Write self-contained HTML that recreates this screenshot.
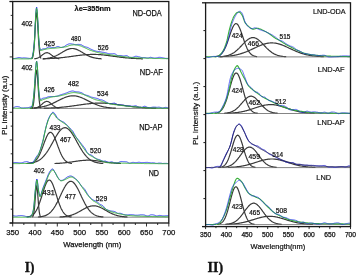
<!DOCTYPE html>
<html><head><meta charset="utf-8"><style>
html,body{margin:0;padding:0;background:#fff;width:357px;height:275px;overflow:hidden}
svg{display:block;will-change:transform;font-family:"Liberation Sans",sans-serif}
</style></head><body>
<svg width="357" height="275" viewBox="0 0 357 275">
<defs><clipPath id="cl"><rect x="12.7" y="1.5" width="156.1" height="221.5"/></clipPath>
<clipPath id="cr"><rect x="205.6" y="3" width="144.9" height="223.6"/></clipPath></defs>
<g clip-path="url(#cl)">
<path d="M31.6,58.8 L32.1,58.4 L32.6,57.6 L33.1,55.7 L33.6,52.3 L34.1,46.8 L34.6,39.1 L35.1,29.9 L35.6,21.0 L36.1,14.6 L36.6,12.5 L37.1,15.5 L37.6,22.6 L38.1,31.7 L38.6,40.7 L39.1,48.0 L39.6,53.1 L40.1,56.2 L40.6,57.8 L41.1,58.5" fill="none" stroke="#3a3a3a" stroke-width="1.2"/>
<path d="M34.3,58.8 L34.8,58.7 L35.3,58.7 L35.8,58.6 L36.3,58.5 L36.8,58.3 L37.3,58.2 L37.8,58.0 L38.3,57.7 L38.8,57.5 L39.3,57.2 L39.8,56.9 L40.3,56.6 L40.8,56.2 L41.3,55.8 L41.8,55.4 L42.3,55.0 L42.8,54.6 L43.3,54.3 L43.8,53.9 L44.3,53.6 L44.8,53.3 L45.3,53.0 L45.8,52.9 L46.3,52.8 L46.8,52.7 L47.3,52.7 L47.8,52.8 L48.3,53.0 L48.8,53.2 L49.3,53.4 L49.8,53.7 L50.3,54.1 L50.8,54.5 L51.3,54.9 L51.8,55.3 L52.3,55.6 L52.8,56.0 L53.3,56.4 L53.8,56.8 L54.3,57.1 L54.8,57.4 L55.3,57.6 L55.8,57.9 L56.3,58.1 L56.8,58.2 L57.3,58.4 L57.8,58.5 L58.3,58.6 L58.8,58.7 L59.3,58.8" fill="none" stroke="#3a3a3a" stroke-width="1.2"/>
<path d="M42.6,58.8 L43.1,58.8 L43.6,58.7 L44.1,58.7 L44.6,58.7 L45.1,58.6 L45.6,58.6 L46.1,58.5 L46.6,58.5 L47.1,58.4 L47.6,58.3 L48.1,58.2 L48.6,58.2 L49.1,58.1 L49.6,58.0 L50.1,57.8 L50.6,57.7 L51.1,57.6 L51.6,57.5 L52.1,57.3 L52.6,57.1 L53.1,57.0 L53.6,56.8 L54.1,56.6 L54.6,56.4 L55.1,56.2 L55.6,56.0 L56.1,55.7 L56.6,55.5 L57.1,55.2 L57.6,55.0 L58.1,54.7 L58.6,54.4 L59.1,54.2 L59.6,53.9 L60.1,53.6 L60.6,53.3 L61.1,53.0 L61.6,52.7 L62.1,52.4 L62.6,52.1 L63.1,51.8 L63.6,51.5 L64.1,51.2 L64.6,50.9 L65.1,50.6 L65.6,50.4 L66.1,50.1 L66.6,49.9 L67.1,49.6 L67.6,49.4 L68.1,49.3 L68.6,49.1 L69.1,48.9 L69.6,48.8 L70.1,48.7 L70.6,48.6 L71.1,48.6 L71.6,48.5 L72.1,48.5 L72.6,48.5 L73.1,48.5 L73.6,48.6 L74.1,48.7 L74.6,48.8 L75.1,48.9 L75.6,49.1 L76.1,49.2 L76.6,49.4 L77.1,49.6 L77.6,49.8 L78.1,50.1 L78.6,50.3 L79.1,50.6 L79.6,50.8 L80.1,51.1 L80.6,51.4 L81.1,51.7 L81.6,52.0 L82.1,52.3 L82.6,52.6 L83.1,52.9 L83.6,53.2 L84.1,53.5 L84.6,53.8 L85.1,54.1 L85.6,54.4 L86.1,54.7 L86.6,54.9 L87.1,55.2 L87.6,55.4 L88.1,55.7 L88.6,55.9 L89.1,56.1 L89.6,56.4 L90.1,56.6 L90.6,56.8 L91.1,56.9 L91.6,57.1 L92.1,57.3 L92.6,57.4 L93.1,57.6 L93.6,57.7 L94.1,57.8 L94.6,57.9 L95.1,58.0 L95.6,58.1 L96.1,58.2 L96.6,58.3 L97.1,58.4 L97.6,58.4 L98.1,58.5 L98.6,58.6 L99.1,58.6 L99.6,58.7 L100.1,58.7 L100.6,58.7 L101.1,58.8 L101.6,58.8" fill="none" stroke="#3a3a3a" stroke-width="1.2"/>
<path d="M42.9,58.8 L43.4,58.8 L43.9,58.8 L44.4,58.8 L44.9,58.7 L45.4,58.7 L45.9,58.7 L46.4,58.7 L46.9,58.7 L47.4,58.7 L47.9,58.6 L48.4,58.6 L48.9,58.6 L49.4,58.6 L49.9,58.5 L50.4,58.5 L50.9,58.5 L51.4,58.5 L51.9,58.4 L52.4,58.4 L52.9,58.4 L53.4,58.4 L53.9,58.3 L54.4,58.3 L54.9,58.2 L55.4,58.2 L55.9,58.2 L56.4,58.1 L56.9,58.1 L57.4,58.1 L57.9,58.0 L58.4,58.0 L58.9,57.9 L59.4,57.9 L59.9,57.8 L60.4,57.8 L60.9,57.7 L61.4,57.7 L61.9,57.6 L62.4,57.6 L62.9,57.5 L63.4,57.5 L63.9,57.4 L64.4,57.3 L64.9,57.3 L65.4,57.2 L65.9,57.2 L66.4,57.1 L66.9,57.0 L67.4,57.0 L67.9,56.9 L68.4,56.8 L68.9,56.8 L69.4,56.7 L69.9,56.6 L70.4,56.6 L70.9,56.5 L71.4,56.4 L71.9,56.4 L72.4,56.3 L72.9,56.2 L73.4,56.2 L73.9,56.1 L74.4,56.0 L74.9,55.9 L75.4,55.9 L75.9,55.8 L76.4,55.7 L76.9,55.7 L77.4,55.6 L77.9,55.5 L78.4,55.5 L78.9,55.4 L79.4,55.3 L79.9,55.3 L80.4,55.2 L80.9,55.2 L81.4,55.1 L81.9,55.1 L82.4,55.0 L82.9,54.9 L83.4,54.9 L83.9,54.9 L84.4,54.8 L84.9,54.8 L85.4,54.7 L85.9,54.7 L86.4,54.6 L86.9,54.6 L87.4,54.6 L87.9,54.5 L88.4,54.5 L88.9,54.5 L89.4,54.5 L89.9,54.5 L90.4,54.4 L90.9,54.4 L91.4,54.4 L91.9,54.4 L92.4,54.4 L92.9,54.4 L93.4,54.4 L93.9,54.4 L94.4,54.4 L94.9,54.4 L95.4,54.4 L95.9,54.4 L96.4,54.5 L96.9,54.5 L97.4,54.5 L97.9,54.5 L98.4,54.6 L98.9,54.6 L99.4,54.6 L99.9,54.7 L100.4,54.7 L100.9,54.7 L101.4,54.8 L101.9,54.8 L102.4,54.9 L102.9,54.9 L103.4,55.0 L103.9,55.0 L104.4,55.1 L104.9,55.1 L105.4,55.2 L105.9,55.3 L106.4,55.3 L106.9,55.4 L107.4,55.5 L107.9,55.5 L108.4,55.6 L108.9,55.6 L109.4,55.7 L109.9,55.8 L110.4,55.9 L110.9,55.9 L111.4,56.0 L111.9,56.1 L112.4,56.1 L112.9,56.2 L113.4,56.3 L113.9,56.3 L114.4,56.4 L114.9,56.5 L115.4,56.5 L115.9,56.6 L116.4,56.7 L116.9,56.7 L117.4,56.8 L117.9,56.9 L118.4,56.9 L118.9,57.0 L119.4,57.1 L119.9,57.1 L120.4,57.2 L120.9,57.3 L121.4,57.3 L121.9,57.4 L122.4,57.4 L122.9,57.5 L123.4,57.6 L123.9,57.6 L124.4,57.7 L124.9,57.7 L125.4,57.8 L125.9,57.8 L126.4,57.9 L126.9,57.9 L127.4,58.0 L127.9,58.0 L128.4,58.0 L128.9,58.1 L129.4,58.1 L129.9,58.2 L130.4,58.2 L130.9,58.2 L131.4,58.3 L131.9,58.3 L132.4,58.3 L132.9,58.4 L133.4,58.4 L133.9,58.4 L134.4,58.5 L134.9,58.5 L135.4,58.5 L135.9,58.5 L136.4,58.6 L136.9,58.6 L137.4,58.6 L137.9,58.6 L138.4,58.7 L138.9,58.7 L139.4,58.7 L139.9,58.7 L140.4,58.7 L140.9,58.7 L141.4,58.8 L141.9,58.8 L142.4,58.8 L142.9,58.8" fill="none" stroke="#3a3a3a" stroke-width="1.2"/>
<path d="M12.7,58.5 L13.2,58.5 L13.7,58.5 L14.2,58.5 L14.7,58.5 L15.2,58.4 L15.7,58.3 L16.2,58.2 L16.7,58.1 L17.2,57.9 L17.7,57.8 L18.2,57.6 L18.7,57.6 L19.2,57.6 L19.7,57.6 L20.2,57.7 L20.7,57.8 L21.2,57.9 L21.7,58.0 L22.2,58.0 L22.7,58.0 L23.2,57.9 L23.7,57.9 L24.2,57.9 L24.7,57.9 L25.2,57.9 L25.7,58.0 L26.2,58.0 L26.7,58.1 L27.2,58.2 L27.7,58.2 L28.2,58.3 L28.7,58.3 L29.2,58.4 L29.7,58.4 L30.2,58.4 L30.7,58.4 L31.2,58.2 L31.7,58.0 L32.2,57.7 L32.7,54.6 L33.2,52.1 L33.7,48.8 L34.2,44.1 L34.7,36.3 L35.2,24.8 L35.7,14.8 L36.2,8.6 L36.7,7.1 L37.2,11.1 L37.7,18.5 L38.2,28.3 L38.7,37.6 L39.2,44.0 L39.7,47.7 L40.2,49.8 L40.7,50.0 L41.2,49.7 L41.7,49.5 L42.2,49.2 L42.7,49.0 L43.2,48.9 L43.7,48.8 L44.2,48.8 L44.7,48.8 L45.2,48.8 L45.7,48.7 L46.2,48.4 L46.7,48.1 L47.2,47.8 L47.7,47.4 L48.2,47.2 L48.7,47.0 L49.2,47.0 L49.7,47.0 L50.2,47.1 L50.7,47.2 L51.2,47.3 L51.7,47.4 L52.2,47.5 L52.7,47.5 L53.2,47.6 L53.7,47.6 L54.2,47.6 L54.7,47.6 L55.2,47.5 L55.7,47.3 L56.2,47.0 L56.7,46.8 L57.2,46.6 L57.7,46.6 L58.2,46.6 L58.7,46.7 L59.2,46.9 L59.7,47.1 L60.2,47.3 L60.7,47.4 L61.2,47.4 L61.7,47.4 L62.2,47.3 L62.7,47.2 L63.2,47.1 L63.7,46.9 L64.2,46.6 L64.7,46.3 L65.2,45.9 L65.7,45.5 L66.2,45.2 L66.7,44.9 L67.2,44.6 L67.7,44.4 L68.2,44.2 L68.7,44.0 L69.2,43.9 L69.7,43.8 L70.2,43.8 L70.7,43.8 L71.2,43.9 L71.7,43.9 L72.2,44.0 L72.7,44.1 L73.2,44.1 L73.7,44.3 L74.2,44.4 L74.7,44.5 L75.2,44.6 L75.7,44.7 L76.2,44.7 L76.7,44.6 L77.2,44.5 L77.7,44.4 L78.2,44.4 L78.7,44.4 L79.2,44.4 L79.7,44.5 L80.2,44.6 L80.7,44.7 L81.2,44.8 L81.7,45.0 L82.2,45.3 L82.7,45.6 L83.2,45.9 L83.7,46.2 L84.2,46.4 L84.7,46.7 L85.2,46.8 L85.7,47.0 L86.2,47.1 L86.7,47.2 L87.2,47.3 L87.7,47.5 L88.2,47.7 L88.7,48.0 L89.2,48.3 L89.7,48.5 L90.2,48.8 L90.7,49.1 L91.2,49.3 L91.7,49.5 L92.2,49.7 L92.7,50.0 L93.2,50.2 L93.7,50.4 L94.2,50.5 L94.7,50.7 L95.2,50.9 L95.7,51.0 L96.2,51.2 L96.7,51.3 L97.2,51.4 L97.7,51.4 L98.2,51.5 L98.7,51.5 L99.2,51.6 L99.7,51.6 L100.2,51.7 L100.7,51.9 L101.2,52.0 L101.7,52.1 L102.2,52.2 L102.7,52.3 L103.2,52.3 L103.7,52.4 L104.2,52.5 L104.7,52.6 L105.2,52.7 L105.7,52.8 L106.2,52.9 L106.7,53.1 L107.2,53.3 L107.7,53.4 L108.2,53.5 L108.7,53.7 L109.2,53.7 L109.7,53.8 L110.2,53.8 L110.7,53.8 L111.2,53.8 L111.7,53.8 L112.2,53.8 L112.7,53.8 L113.2,53.7 L113.7,53.7 L114.2,53.7 L114.7,53.8 L115.2,54.0 L115.7,54.3 L116.2,54.7 L116.7,55.0 L117.2,55.3 L117.7,55.5 L118.2,55.6 L118.7,55.6 L119.2,55.6 L119.7,55.5 L120.2,55.5 L120.7,55.5 L121.2,55.6 L121.7,55.7 L122.2,55.8 L122.7,55.9 L123.2,56.0 L123.7,56.0 L124.2,56.0 L124.7,55.9 L125.2,55.8 L125.7,55.7 L126.2,55.6 L126.7,55.7 L127.2,55.8 L127.7,56.1 L128.2,56.4 L128.7,56.8 L129.2,57.1 L129.7,57.3 L130.2,57.4 L130.7,57.4 L131.2,57.4 L131.7,57.4 L132.2,57.4 L132.7,57.3 L133.2,57.2 L133.7,57.0 L134.2,56.8 L134.7,56.6 L135.2,56.4 L135.7,56.3 L136.2,56.3 L136.7,56.3 L137.2,56.4 L137.7,56.5 L138.2,56.7 L138.7,56.8 L139.2,56.9 L139.7,57.0 L140.2,57.2 L140.7,57.3 L141.2,57.4 L141.7,57.5 L142.2,57.5 L142.7,57.6 L143.2,57.6 L143.7,57.5 L144.2,57.6 L144.7,57.6 L145.2,57.6 L145.7,57.7 L146.2,57.9 L146.7,57.9 L147.2,58.0 L147.7,58.0 L148.2,58.0 L148.7,57.8 L149.2,57.6 L149.7,57.5 L150.2,57.4 L150.7,57.3 L151.2,57.4 L151.7,57.5 L152.2,57.6 L152.7,57.8 L153.2,57.9 L153.7,58.0 L154.2,58.1 L154.7,58.1 L155.2,58.0 L155.7,58.0 L156.2,57.9 L156.7,57.9 L157.2,57.8 L157.7,57.7 L158.2,57.5 L158.7,57.4 L159.2,57.4 L159.7,57.3 L160.2,57.4 L160.7,57.4 L161.2,57.5 L161.7,57.6 L162.2,57.7 L162.7,57.8 L163.2,57.9 L163.7,58.0 L164.2,58.1 L164.7,58.2 L165.2,58.3 L165.7,58.4 L166.2,58.4 L166.7,58.4 L167.2,58.4 L167.7,58.4 L168.2,58.4 L168.7,58.4" fill="none" stroke="#2233ee" stroke-width="0.9"/>
<path d="M12.7,58.8 L13.0,58.8 L13.3,58.8 L13.6,58.8 L14.0,58.8 L14.4,58.8 L14.8,58.8 L15.3,58.8 L15.8,58.8 L16.3,58.8 L16.8,58.8 L17.4,58.8 L17.9,58.8 L18.5,58.8 L19.1,58.8 L19.7,58.9 L20.3,58.9 L20.9,58.9 L21.5,58.9 L22.1,58.9 L22.7,58.9 L23.3,58.9 L23.9,58.9 L24.5,58.9 L25.1,58.9 L25.7,58.9 L26.2,58.9 L26.8,58.9 L27.3,58.9 L27.8,58.9 L28.3,58.9 L28.7,58.9 L29.1,58.8 L29.5,58.8 L29.9,58.8 L30.2,58.8 L30.5,58.8 L32.0,58.7 L32.3,58.6 L32.0,58.3 L32.0,57.8 L32.5,56.7 L32.9,55.2 L33.3,53.0 L33.7,50.3 L34.1,46.9 L34.5,42.0 L34.9,34.4 L35.2,25.4 L35.6,18.0 L35.9,13.0 L36.3,9.6 L36.6,8.3 L36.9,9.6 L37.3,13.1 L37.6,18.0 L38.0,24.9 L38.4,33.1 L38.8,40.0 L39.2,44.4 L39.6,47.4 L40.0,49.5 L40.3,50.4 L40.5,50.6 L40.8,50.5 L41.5,50.3 L41.8,50.3 L42.1,50.2 L42.4,50.1 L42.8,50.0 L43.2,49.9 L43.6,49.7 L44.0,49.6 L44.5,49.4 L45.0,49.3 L45.6,49.1 L46.3,49.0 L47.0,48.9 L47.4,48.9 L47.7,48.8 L48.2,48.8 L48.6,48.7 L49.1,48.7 L49.5,48.6 L50.0,48.6 L50.5,48.5 L51.0,48.5 L51.6,48.4 L52.1,48.4 L52.6,48.3 L53.2,48.3 L53.7,48.2 L54.3,48.2 L54.8,48.1 L55.3,48.1 L55.9,48.0 L56.4,48.0 L56.9,48.0 L57.4,47.9 L57.8,47.9 L58.3,47.8 L58.7,47.8 L59.1,47.7 L59.5,47.7 L60.2,47.6 L60.8,47.5 L61.3,47.5 L61.9,47.4 L62.4,47.3 L62.8,47.3 L63.3,47.2 L63.7,47.1 L64.1,47.1 L64.5,47.0 L64.9,46.9 L65.3,46.9 L65.6,46.8 L66.0,46.7 L66.6,46.6 L67.0,46.4 L67.5,46.3 L67.9,46.1 L68.3,45.9 L68.7,45.8 L69.1,45.6 L69.5,45.5 L70.0,45.4 L70.4,45.3 L70.9,45.2 L71.3,45.1 L71.8,45.0 L72.3,45.0 L72.7,44.9 L73.2,44.8 L73.7,44.8 L74.2,44.8 L74.7,44.8 L75.2,44.8 L75.6,44.9 L76.1,44.9 L76.6,45.0 L77.1,45.1 L77.6,45.2 L78.1,45.3 L78.6,45.4 L79.1,45.5 L79.5,45.7 L80.0,45.8 L80.5,45.9 L80.9,46.1 L81.4,46.2 L81.8,46.4 L82.2,46.6 L82.6,46.8 L83.1,47.0 L83.5,47.2 L84.0,47.4 L84.5,47.6 L84.9,47.8 L85.3,48.0 L85.8,48.2 L86.2,48.4 L86.6,48.6 L87.1,48.8 L87.6,49.1 L88.1,49.3 L88.6,49.5 L89.1,49.8 L89.6,50.0 L90.1,50.2 L90.7,50.4 L91.1,50.5 L91.6,50.7 L92.0,50.9 L92.5,51.0 L93.0,51.2 L93.5,51.3 L94.1,51.5 L94.6,51.6 L95.1,51.8 L95.6,51.9 L96.2,52.1 L96.7,52.2 L97.2,52.3 L97.7,52.5 L98.1,52.6 L98.6,52.7 L99.0,52.8 L99.4,52.9 L100.0,53.0 L100.5,53.2 L101.0,53.3 L101.5,53.4 L101.9,53.5 L102.4,53.5 L102.8,53.6 L103.2,53.7 L103.6,53.7 L104.0,53.8 L104.5,53.9 L104.9,54.0 L105.2,54.0 L105.5,54.1 L105.8,54.1 L106.0,54.2 L106.3,54.2 L106.7,54.3 L107.1,54.4 L107.6,54.5 L108.2,54.6 L109.0,54.7 L110.0,54.8 L110.3,54.8 L110.7,54.9 L111.0,54.9 L111.4,55.0 L111.8,55.0 L112.2,55.1 L112.6,55.2 L113.0,55.2 L113.4,55.3 L113.9,55.4 L114.3,55.4 L114.8,55.5 L115.3,55.6 L115.8,55.6 L116.3,55.7 L116.8,55.8 L117.3,55.8 L117.8,55.9 L118.3,56.0 L118.8,56.1 L119.4,56.1 L119.9,56.2 L120.4,56.3 L121.0,56.4 L121.5,56.4 L122.1,56.5 L122.6,56.6 L123.2,56.6 L123.7,56.7 L124.3,56.8 L124.8,56.8 L125.3,56.9 L125.9,57.0 L126.4,57.0 L126.9,57.1 L127.5,57.2 L128.0,57.2 L128.5,57.3 L129.0,57.3 L129.5,57.4 L130.0,57.4 L130.5,57.4 L131.0,57.5 L131.5,57.5 L132.0,57.6 L132.4,57.6 L132.9,57.6 L133.4,57.7 L133.9,57.7 L134.4,57.7 L134.9,57.7 L135.4,57.8 L135.9,57.8 L136.4,57.8 L136.9,57.9 L137.4,57.9 L137.9,57.9 L138.4,57.9 L138.8,57.9 L139.3,58.0 L139.8,58.0 L140.3,58.0 L140.8,58.0 L141.3,58.0 L141.8,58.0 L142.3,58.1 L142.8,58.1 L143.3,58.1 L143.7,58.1 L144.2,58.1 L144.7,58.1 L145.2,58.2 L145.7,58.2 L146.2,58.2 L146.7,58.2 L147.1,58.2 L147.6,58.2 L148.1,58.2 L148.6,58.3 L149.1,58.3 L149.5,58.3 L150.0,58.3 L150.5,58.3 L151.0,58.3 L151.6,58.3 L152.1,58.4 L152.7,58.4 L153.2,58.4 L153.8,58.4 L154.4,58.4 L154.9,58.4 L155.5,58.5 L156.1,58.5 L156.7,58.5 L157.2,58.5 L157.8,58.5 L158.4,58.5 L159.0,58.5 L159.5,58.5 L160.1,58.5 L160.7,58.6 L161.2,58.6 L161.7,58.6 L162.3,58.6 L162.8,58.6 L163.3,58.6 L163.8,58.6 L164.3,58.6 L164.8,58.6 L165.2,58.6 L165.7,58.6 L166.1,58.7 L166.5,58.7 L166.9,58.7 L167.3,58.7 L167.6,58.7 L167.9,58.7 L168.3,58.7 L168.5,58.7 L168.8,58.7" fill="none" stroke="#38b038" stroke-width="1.0"/>
<line x1="30" y1="108.4" x2="168.8" y2="108.4" stroke="#666" stroke-width="0.8"/>
<path d="M31.7,108.2 L32.2,107.8 L32.7,107.0 L33.2,105.3 L33.7,102.2 L34.2,97.4 L34.7,90.8 L35.2,83.2 L35.7,76.1 L36.2,71.5 L36.7,70.6 L37.2,73.7 L37.7,79.9 L38.2,87.5 L38.7,94.7 L39.2,100.3 L39.7,104.2 L40.2,106.4 L40.7,107.6 L41.2,108.1" fill="none" stroke="#3a3a3a" stroke-width="1.2"/>
<path d="M34.0,108.2 L34.5,108.1 L35.0,108.1 L35.5,108.0 L36.0,107.8 L36.5,107.7 L37.0,107.5 L37.5,107.3 L38.0,107.1 L38.5,106.8 L39.0,106.5 L39.5,106.2 L40.0,105.8 L40.5,105.4 L41.0,105.0 L41.5,104.6 L42.0,104.2 L42.5,103.7 L43.0,103.3 L43.5,102.9 L44.0,102.5 L44.5,102.2 L45.0,101.9 L45.5,101.7 L46.0,101.5 L46.5,101.4 L47.0,101.4 L47.5,101.5 L48.0,101.6 L48.5,101.8 L49.0,102.1 L49.5,102.4 L50.0,102.8 L50.5,103.2 L51.0,103.6 L51.5,104.1 L52.0,104.5 L52.5,104.9 L53.0,105.4 L53.5,105.8 L54.0,106.1 L54.5,106.5 L55.0,106.8 L55.5,107.0 L56.0,107.3 L56.5,107.5 L57.0,107.7 L57.5,107.8 L58.0,107.9 L58.5,108.0 L59.0,108.1 L59.5,108.2" fill="none" stroke="#3a3a3a" stroke-width="1.2"/>
<path d="M29.8,108.2 L30.3,108.2 L30.8,108.2 L31.3,108.1 L31.8,108.1 L32.3,108.1 L32.8,108.1 L33.3,108.0 L33.8,108.0 L34.3,107.9 L34.8,107.9 L35.3,107.9 L35.8,107.8 L36.3,107.8 L36.8,107.7 L37.3,107.7 L37.8,107.6 L38.3,107.5 L38.8,107.5 L39.3,107.4 L39.8,107.3 L40.3,107.2 L40.8,107.1 L41.3,107.0 L41.8,106.9 L42.3,106.8 L42.8,106.7 L43.3,106.6 L43.8,106.5 L44.3,106.4 L44.8,106.2 L45.3,106.1 L45.8,106.0 L46.3,105.8 L46.8,105.7 L47.3,105.5 L47.8,105.3 L48.3,105.1 L48.8,105.0 L49.3,104.8 L49.8,104.6 L50.3,104.4 L50.8,104.2 L51.3,104.0 L51.8,103.7 L52.3,103.5 L52.8,103.3 L53.3,103.1 L53.8,102.8 L54.3,102.6 L54.8,102.4 L55.3,102.1 L55.8,101.9 L56.3,101.6 L56.8,101.4 L57.3,101.1 L57.8,100.8 L58.3,100.6 L58.8,100.3 L59.3,100.1 L59.8,99.8 L60.3,99.6 L60.8,99.3 L61.3,99.1 L61.8,98.9 L62.3,98.6 L62.8,98.4 L63.3,98.2 L63.8,98.0 L64.3,97.7 L64.8,97.5 L65.3,97.3 L65.8,97.2 L66.3,97.0 L66.8,96.8 L67.3,96.7 L67.8,96.5 L68.3,96.4 L68.8,96.3 L69.3,96.2 L69.8,96.1 L70.3,96.0 L70.8,95.9 L71.3,95.9 L71.8,95.8 L72.3,95.8 L72.8,95.8 L73.3,95.8 L73.8,95.8 L74.3,95.8 L74.8,95.9 L75.3,95.9 L75.8,96.0 L76.3,96.1 L76.8,96.2 L77.3,96.3 L77.8,96.4 L78.3,96.6 L78.8,96.7 L79.3,96.9 L79.8,97.0 L80.3,97.2 L80.8,97.4 L81.3,97.6 L81.8,97.8 L82.3,98.0 L82.8,98.2 L83.3,98.5 L83.8,98.7 L84.3,98.9 L84.8,99.2 L85.3,99.4 L85.8,99.7 L86.3,99.9 L86.8,100.2 L87.3,100.4 L87.8,100.7 L88.3,100.9 L88.8,101.2 L89.3,101.4 L89.8,101.7 L90.3,101.9 L90.8,102.2 L91.3,102.4 L91.8,102.7 L92.3,102.9 L92.8,103.1 L93.3,103.4 L93.8,103.6 L94.3,103.8 L94.8,104.0 L95.3,104.2 L95.8,104.4 L96.3,104.6 L96.8,104.8 L97.3,105.0 L97.8,105.2 L98.3,105.4 L98.8,105.5 L99.3,105.7 L99.8,105.9 L100.3,106.0 L100.8,106.1 L101.3,106.3 L101.8,106.4 L102.3,106.5 L102.8,106.7 L103.3,106.8 L103.8,106.9 L104.3,107.0 L104.8,107.1 L105.3,107.2 L105.8,107.2 L106.3,107.3 L106.8,107.4 L107.3,107.5 L107.8,107.5 L108.3,107.6 L108.8,107.7 L109.3,107.7 L109.8,107.8 L110.3,107.8 L110.8,107.9 L111.3,107.9 L111.8,108.0 L112.3,108.0 L112.8,108.0 L113.3,108.1 L113.8,108.1 L114.3,108.1 L114.8,108.1 L115.3,108.2 L115.8,108.2" fill="none" stroke="#3a3a3a" stroke-width="1.2"/>
<path d="M43.7,108.2 L44.2,108.2 L44.7,108.2 L45.2,108.2 L45.7,108.1 L46.2,108.1 L46.7,108.1 L47.2,108.1 L47.7,108.1 L48.2,108.1 L48.7,108.1 L49.2,108.0 L49.7,108.0 L50.2,108.0 L50.7,108.0 L51.2,107.9 L51.7,107.9 L52.2,107.9 L52.7,107.9 L53.2,107.8 L53.7,107.8 L54.2,107.8 L54.7,107.8 L55.2,107.7 L55.7,107.7 L56.2,107.7 L56.7,107.6 L57.2,107.6 L57.7,107.6 L58.2,107.5 L58.7,107.5 L59.2,107.5 L59.7,107.4 L60.2,107.4 L60.7,107.3 L61.2,107.3 L61.7,107.2 L62.2,107.2 L62.7,107.1 L63.2,107.1 L63.7,107.0 L64.2,107.0 L64.7,106.9 L65.2,106.9 L65.7,106.8 L66.2,106.8 L66.7,106.7 L67.2,106.7 L67.7,106.6 L68.2,106.5 L68.7,106.5 L69.2,106.4 L69.7,106.4 L70.2,106.3 L70.7,106.2 L71.2,106.2 L71.7,106.1 L72.2,106.0 L72.7,105.9 L73.2,105.9 L73.7,105.8 L74.2,105.7 L74.7,105.7 L75.2,105.6 L75.7,105.5 L76.2,105.5 L76.7,105.4 L77.2,105.3 L77.7,105.2 L78.2,105.2 L78.7,105.1 L79.2,105.0 L79.7,104.9 L80.2,104.9 L80.7,104.8 L81.2,104.7 L81.7,104.7 L82.2,104.6 L82.7,104.5 L83.2,104.4 L83.7,104.4 L84.2,104.3 L84.7,104.2 L85.2,104.2 L85.7,104.1 L86.2,104.0 L86.7,104.0 L87.2,103.9 L87.7,103.9 L88.2,103.8 L88.7,103.8 L89.2,103.7 L89.7,103.7 L90.2,103.6 L90.7,103.6 L91.2,103.5 L91.7,103.5 L92.2,103.4 L92.7,103.4 L93.2,103.3 L93.7,103.3 L94.2,103.3 L94.7,103.3 L95.2,103.2 L95.7,103.2 L96.2,103.2 L96.7,103.2 L97.2,103.1 L97.7,103.1 L98.2,103.1 L98.7,103.1 L99.2,103.1 L99.7,103.1 L100.2,103.1 L100.7,103.1 L101.2,103.1 L101.7,103.1 L102.2,103.1 L102.7,103.1 L103.2,103.2 L103.7,103.2 L104.2,103.2 L104.7,103.2 L105.2,103.2 L105.7,103.3 L106.2,103.3 L106.7,103.3 L107.2,103.4 L107.7,103.4 L108.2,103.5 L108.7,103.5 L109.2,103.5 L109.7,103.6 L110.2,103.6 L110.7,103.7 L111.2,103.7 L111.7,103.8 L112.2,103.9 L112.7,103.9 L113.2,104.0 L113.7,104.0 L114.2,104.1 L114.7,104.2 L115.2,104.2 L115.7,104.3 L116.2,104.4 L116.7,104.4 L117.2,104.5 L117.7,104.6 L118.2,104.6 L118.7,104.7 L119.2,104.8 L119.7,104.8 L120.2,104.9 L120.7,105.0 L121.2,105.1 L121.7,105.1 L122.2,105.2 L122.7,105.3 L123.2,105.4 L123.7,105.4 L124.2,105.5 L124.7,105.6 L125.2,105.6 L125.7,105.7 L126.2,105.8 L126.7,105.9 L127.2,105.9 L127.7,106.0 L128.2,106.1 L128.7,106.1 L129.2,106.2 L129.7,106.3 L130.2,106.3 L130.7,106.4 L131.2,106.5 L131.7,106.5 L132.2,106.6 L132.7,106.6 L133.2,106.7 L133.7,106.8 L134.2,106.8 L134.7,106.9 L135.2,106.9 L135.7,107.0 L136.2,107.0 L136.7,107.1 L137.2,107.1 L137.7,107.2 L138.2,107.2 L138.7,107.3 L139.2,107.3 L139.7,107.4 L140.2,107.4 L140.7,107.4 L141.2,107.5 L141.7,107.5 L142.2,107.6 L142.7,107.6 L143.2,107.6 L143.7,107.7 L144.2,107.7 L144.7,107.7 L145.2,107.8 L145.7,107.8 L146.2,107.8 L146.7,107.8 L147.2,107.9 L147.7,107.9 L148.2,107.9 L148.7,107.9 L149.2,108.0 L149.7,108.0 L150.2,108.0 L150.7,108.0 L151.2,108.0 L151.7,108.1 L152.2,108.1 L152.7,108.1 L153.2,108.1 L153.7,108.1 L154.2,108.1 L154.7,108.2 L155.2,108.2 L155.7,108.2 L156.2,108.2" fill="none" stroke="#3a3a3a" stroke-width="1.2"/>
<path d="M12.7,108.1 L13.2,107.9 L13.7,107.7 L14.2,107.4 L14.7,107.1 L15.2,106.9 L15.7,106.7 L16.2,106.6 L16.7,106.6 L17.2,106.6 L17.7,106.6 L18.2,106.7 L18.7,106.8 L19.2,106.9 L19.7,107.1 L20.2,107.4 L20.7,107.6 L21.2,107.8 L21.7,108.0 L22.2,108.0 L22.7,108.0 L23.2,108.0 L23.7,107.9 L24.2,107.9 L24.7,107.8 L25.2,107.8 L25.7,107.8 L26.2,107.8 L26.7,107.8 L27.2,107.8 L27.7,107.7 L28.2,107.6 L28.7,107.5 L29.2,107.4 L29.7,107.2 L30.2,107.1 L30.7,107.0 L31.2,107.0 L31.7,106.2 L32.2,105.5 L32.7,103.6 L33.2,100.3 L33.7,95.8 L34.2,90.4 L34.7,83.5 L35.2,75.3 L35.7,68.1 L36.2,62.7 L36.7,61.1 L37.2,64.3 L37.7,71.1 L38.2,80.8 L38.7,89.7 L39.2,95.0 L39.7,97.8 L40.2,99.3 L40.7,99.7 L41.2,99.2 L41.7,98.9 L42.2,98.6 L42.7,98.3 L43.2,98.2 L43.7,98.1 L44.2,98.0 L44.7,98.0 L45.2,97.9 L45.7,97.8 L46.2,97.6 L46.7,97.4 L47.2,97.2 L47.7,97.0 L48.2,96.9 L48.7,96.7 L49.2,96.7 L49.7,96.6 L50.2,96.6 L50.7,96.5 L51.2,96.5 L51.7,96.5 L52.2,96.5 L52.7,96.5 L53.2,96.5 L53.7,96.5 L54.2,96.5 L54.7,96.5 L55.2,96.4 L55.7,96.4 L56.2,96.3 L56.7,96.2 L57.2,96.1 L57.7,96.0 L58.2,95.8 L58.7,95.7 L59.2,95.4 L59.7,95.2 L60.2,95.0 L60.7,94.8 L61.2,94.7 L61.7,94.5 L62.2,94.4 L62.7,94.2 L63.2,94.1 L63.7,93.9 L64.2,93.7 L64.7,93.6 L65.2,93.4 L65.7,93.2 L66.2,93.0 L66.7,92.9 L67.2,92.6 L67.7,92.4 L68.2,92.2 L68.7,92.0 L69.2,91.8 L69.7,91.6 L70.2,91.5 L70.7,91.3 L71.2,91.2 L71.7,91.1 L72.2,91.0 L72.7,91.0 L73.2,91.0 L73.7,91.2 L74.2,91.3 L74.7,91.5 L75.2,91.6 L75.7,91.8 L76.2,91.8 L76.7,91.9 L77.2,91.9 L77.7,91.9 L78.2,91.9 L78.7,92.0 L79.2,92.1 L79.7,92.2 L80.2,92.3 L80.7,92.5 L81.2,92.6 L81.7,92.8 L82.2,93.1 L82.7,93.4 L83.2,93.7 L83.7,94.1 L84.2,94.4 L84.7,94.7 L85.2,94.9 L85.7,95.0 L86.2,95.2 L86.7,95.3 L87.2,95.4 L87.7,95.5 L88.2,95.7 L88.7,95.9 L89.2,96.2 L89.7,96.4 L90.2,96.7 L90.7,96.9 L91.2,97.1 L91.7,97.2 L92.2,97.3 L92.7,97.4 L93.2,97.5 L93.7,97.7 L94.2,97.8 L94.7,97.9 L95.2,98.0 L95.7,98.1 L96.2,98.2 L96.7,98.4 L97.2,98.5 L97.7,98.7 L98.2,98.9 L98.7,99.1 L99.2,99.4 L99.7,99.5 L100.2,99.7 L100.7,99.8 L101.2,99.8 L101.7,99.9 L102.2,100.0 L102.7,100.2 L103.2,100.4 L103.7,100.7 L104.2,100.9 L104.7,101.2 L105.2,101.5 L105.7,101.8 L106.2,102.1 L106.7,102.4 L107.2,102.7 L107.7,103.0 L108.2,103.2 L108.7,103.4 L109.2,103.5 L109.7,103.6 L110.2,103.6 L110.7,103.6 L111.2,103.5 L111.7,103.5 L112.2,103.4 L112.7,103.4 L113.2,103.3 L113.7,103.2 L114.2,103.1 L114.7,103.2 L115.2,103.4 L115.7,103.6 L116.2,103.9 L116.7,104.3 L117.2,104.5 L117.7,104.7 L118.2,104.9 L118.7,104.9 L119.2,104.9 L119.7,104.9 L120.2,104.9 L120.7,105.0 L121.2,105.0 L121.7,105.0 L122.2,105.1 L122.7,105.1 L123.2,105.2 L123.7,105.2 L124.2,105.3 L124.7,105.4 L125.2,105.5 L125.7,105.7 L126.2,105.8 L126.7,105.8 L127.2,105.9 L127.7,105.9 L128.2,105.9 L128.7,105.9 L129.2,105.9 L129.7,105.9 L130.2,106.0 L130.7,106.0 L131.2,106.1 L131.7,106.2 L132.2,106.2 L132.7,106.2 L133.2,106.2 L133.7,106.1 L134.2,106.0 L134.7,105.9 L135.2,105.8 L135.7,105.8 L136.2,105.9 L136.7,106.1 L137.2,106.4 L137.7,106.7 L138.2,106.9 L138.7,107.1 L139.2,107.2 L139.7,107.3 L140.2,107.3 L140.7,107.3 L141.2,107.3 L141.7,107.3 L142.2,107.2 L142.7,107.0 L143.2,106.7 L143.7,106.5 L144.2,106.3 L144.7,106.3 L145.2,106.4 L145.7,106.5 L146.2,106.8 L146.7,107.0 L147.2,107.3 L147.7,107.4 L148.2,107.5 L148.7,107.5 L149.2,107.5 L149.7,107.5 L150.2,107.5 L150.7,107.5 L151.2,107.4 L151.7,107.4 L152.2,107.3 L152.7,107.2 L153.2,107.2 L153.7,107.1 L154.2,107.1 L154.7,107.2 L155.2,107.2 L155.7,107.2 L156.2,107.3 L156.7,107.3 L157.2,107.3 L157.7,107.3 L158.2,107.2 L158.7,107.2 L159.2,107.2 L159.7,107.3 L160.2,107.4 L160.7,107.5 L161.2,107.7 L161.7,107.8 L162.2,108.0 L162.7,108.0 L163.2,108.0 L163.7,107.8 L164.2,107.7 L164.7,107.5 L165.2,107.4 L165.7,107.4 L166.2,107.4 L166.7,107.5 L167.2,107.6 L167.7,107.8 L168.2,107.9 L168.7,107.9" fill="none" stroke="#2233ee" stroke-width="0.9"/>
<path d="M12.7,108.3 L13.0,108.3 L13.3,108.3 L13.6,108.3 L14.0,108.3 L14.4,108.3 L14.8,108.3 L15.3,108.3 L15.8,108.3 L16.3,108.3 L16.9,108.3 L17.4,108.3 L18.0,108.3 L18.6,108.3 L19.2,108.3 L19.8,108.3 L20.4,108.3 L21.0,108.3 L21.6,108.3 L22.2,108.3 L22.8,108.3 L23.4,108.4 L24.0,108.4 L24.6,108.4 L25.1,108.4 L25.7,108.4 L26.2,108.3 L26.7,108.3 L27.2,108.3 L27.7,108.3 L28.1,108.3 L28.5,108.3 L28.9,108.3 L29.2,108.3 L29.5,108.3 L30.9,108.3 L31.4,108.2 L31.5,108.1 L31.4,107.9 L31.5,107.6 L32.0,107.0 L32.4,106.1 L32.8,104.0 L33.2,101.4 L33.5,98.0 L33.9,94.2 L34.3,90.0 L34.8,83.4 L35.2,76.0 L35.6,70.0 L36.0,65.7 L36.3,62.6 L36.6,61.5 L36.9,62.6 L37.3,65.5 L37.6,70.0 L38.0,76.8 L38.4,85.2 L38.8,92.0 L39.2,96.1 L39.7,98.6 L40.2,100.2 L40.5,100.8 L40.6,100.8 L41.1,100.4 L42.0,100.0 L42.3,99.9 L42.7,99.8 L43.0,99.7 L43.4,99.5 L43.9,99.4 L44.3,99.2 L44.8,99.1 L45.3,98.9 L45.8,98.7 L46.3,98.6 L46.9,98.4 L47.4,98.2 L48.0,98.0 L48.5,97.9 L49.0,97.7 L49.6,97.6 L50.1,97.4 L50.6,97.3 L51.1,97.2 L51.6,97.1 L52.1,97.0 L52.6,96.9 L53.1,96.8 L53.6,96.7 L54.2,96.7 L54.7,96.6 L55.2,96.5 L55.7,96.4 L56.2,96.4 L56.8,96.3 L57.3,96.2 L57.7,96.2 L58.2,96.1 L58.7,96.0 L59.1,96.0 L59.6,95.9 L60.0,95.8 L60.6,95.7 L61.1,95.6 L61.6,95.5 L62.0,95.3 L62.5,95.2 L62.9,95.1 L63.3,95.0 L63.7,94.9 L64.1,94.8 L64.6,94.7 L65.0,94.5 L65.5,94.4 L66.0,94.3 L66.4,94.2 L66.9,94.1 L67.3,93.9 L67.8,93.8 L68.2,93.7 L68.7,93.5 L69.2,93.4 L69.7,93.3 L70.1,93.1 L70.6,93.0 L71.1,92.9 L71.6,92.8 L72.1,92.7 L72.6,92.7 L73.1,92.6 L73.6,92.6 L74.1,92.6 L74.6,92.6 L75.1,92.6 L75.6,92.7 L76.1,92.8 L76.6,92.8 L77.1,92.9 L77.6,93.0 L78.2,93.1 L78.7,93.2 L79.2,93.3 L79.7,93.4 L80.2,93.5 L80.7,93.6 L81.1,93.8 L81.6,93.9 L82.0,94.0 L82.5,94.2 L83.0,94.3 L83.5,94.5 L84.0,94.7 L84.4,94.9 L84.9,95.1 L85.3,95.2 L85.7,95.5 L86.2,95.7 L86.6,95.9 L87.0,96.1 L87.5,96.3 L88.0,96.5 L88.4,96.7 L88.9,96.9 L89.4,97.1 L89.8,97.3 L90.3,97.5 L90.8,97.7 L91.3,98.0 L91.8,98.2 L92.3,98.4 L92.8,98.6 L93.3,98.8 L93.7,99.0 L94.2,99.2 L94.6,99.3 L95.0,99.5 L95.5,99.7 L96.0,99.8 L96.4,99.9 L96.8,100.0 L97.1,100.1 L97.5,100.2 L97.9,100.3 L98.3,100.4 L98.8,100.5 L99.4,100.6 L100.0,100.8 L100.4,100.9 L100.7,101.0 L101.1,101.1 L101.5,101.3 L101.9,101.4 L102.3,101.6 L102.8,101.7 L103.2,101.9 L103.7,102.0 L104.1,102.2 L104.6,102.3 L105.1,102.5 L105.6,102.6 L106.1,102.8 L106.6,103.0 L107.2,103.1 L107.7,103.3 L108.3,103.4 L108.8,103.5 L109.4,103.7 L110.0,103.8 L110.4,103.9 L110.8,104.0 L111.3,104.0 L111.7,104.1 L112.1,104.2 L112.6,104.3 L113.0,104.3 L113.5,104.4 L114.0,104.5 L114.5,104.6 L115.0,104.6 L115.4,104.7 L115.9,104.8 L116.4,104.8 L116.9,104.9 L117.4,105.0 L117.9,105.0 L118.5,105.1 L119.0,105.2 L119.5,105.2 L120.0,105.3 L120.5,105.4 L121.0,105.4 L121.5,105.5 L122.0,105.6 L122.5,105.6 L123.0,105.7 L123.5,105.7 L124.0,105.8 L124.5,105.8 L125.0,105.9 L125.5,106.0 L126.0,106.0 L126.5,106.1 L127.0,106.1 L127.5,106.2 L128.0,106.2 L128.5,106.3 L129.0,106.3 L129.5,106.4 L130.0,106.4 L130.5,106.5 L131.0,106.5 L131.5,106.6 L132.1,106.6 L132.6,106.7 L133.1,106.7 L133.6,106.8 L134.1,106.8 L134.6,106.8 L135.0,106.9 L135.5,106.9 L136.0,107.0 L136.5,107.0 L137.0,107.0 L137.4,107.1 L137.9,107.1 L138.3,107.2 L138.7,107.2 L139.2,107.2 L139.6,107.3 L140.0,107.3 L140.6,107.3 L141.1,107.4 L141.6,107.4 L142.1,107.5 L142.5,107.5 L143.0,107.6 L143.4,107.6 L143.8,107.6 L144.2,107.7 L144.6,107.7 L145.0,107.7 L145.4,107.8 L145.8,107.8 L146.2,107.8 L146.6,107.8 L147.1,107.9 L147.6,107.9 L148.2,107.9 L148.7,108.0 L149.3,108.0 L150.0,108.0 L150.4,108.0 L150.8,108.0 L151.2,108.0 L151.7,108.0 L152.2,108.1 L152.7,108.1 L153.2,108.1 L153.7,108.1 L154.2,108.1 L154.8,108.1 L155.4,108.1 L155.9,108.1 L156.5,108.1 L157.1,108.2 L157.7,108.2 L158.3,108.2 L158.8,108.2 L159.4,108.2 L160.0,108.2 L160.6,108.2 L161.2,108.2 L161.8,108.2 L162.3,108.2 L162.9,108.2 L163.4,108.2 L164.0,108.2 L164.5,108.2 L165.0,108.3 L165.5,108.3 L165.9,108.3 L166.4,108.3 L166.8,108.3 L167.2,108.3 L167.6,108.3 L167.9,108.3 L168.2,108.3 L168.5,108.3 L168.8,108.3" fill="none" stroke="#38b038" stroke-width="1.0"/>
<path d="M28.5,163.5 L29.0,163.4 L29.5,163.4 L30.0,163.3 L30.5,163.2 L31.0,163.1 L31.5,163.0 L32.0,162.8 L32.5,162.6 L33.0,162.4 L33.5,162.2 L34.0,161.9 L34.5,161.5 L35.0,161.1 L35.5,160.7 L36.0,160.2 L36.5,159.6 L37.0,159.0 L37.5,158.3 L38.0,157.5 L38.5,156.7 L39.0,155.8 L39.5,154.8 L40.0,153.7 L40.5,152.6 L41.0,151.4 L41.5,150.1 L42.0,148.8 L42.5,147.5 L43.0,146.1 L43.5,144.8 L44.0,143.4 L44.5,142.0 L45.0,140.7 L45.5,139.4 L46.0,138.2 L46.5,137.0 L47.0,136.0 L47.5,135.0 L48.0,134.2 L48.5,133.5 L49.0,133.0 L49.5,132.6 L50.0,132.4 L50.5,132.3 L51.0,132.4 L51.5,132.7 L52.0,133.1 L52.5,133.7 L53.0,134.4 L53.5,135.2 L54.0,136.2 L54.5,137.3 L55.0,138.5 L55.5,139.7 L56.0,141.0 L56.5,142.3 L57.0,143.7 L57.5,145.1 L58.0,146.5 L58.5,147.8 L59.0,149.1 L59.5,150.4 L60.0,151.7 L60.5,152.8 L61.0,154.0 L61.5,155.0 L62.0,156.0 L62.5,156.9 L63.0,157.7 L63.5,158.5 L64.0,159.1 L64.5,159.8 L65.0,160.3 L65.5,160.8 L66.0,161.2 L66.5,161.6 L67.0,161.9 L67.5,162.2 L68.0,162.5 L68.5,162.7 L69.0,162.9 L69.5,163.0 L70.0,163.1 L70.5,163.2 L71.0,163.3 L71.5,163.4 L72.0,163.5" fill="none" stroke="#3a3a3a" stroke-width="1.2"/>
<path d="M26.3,163.5 L26.8,163.5 L27.3,163.4 L27.8,163.4 L28.3,163.4 L28.8,163.3 L29.3,163.3 L29.8,163.2 L30.3,163.1 L30.8,163.1 L31.3,163.0 L31.8,162.9 L32.3,162.8 L32.8,162.7 L33.3,162.6 L33.8,162.5 L34.3,162.3 L34.8,162.2 L35.3,162.0 L35.8,161.8 L36.3,161.6 L36.8,161.4 L37.3,161.2 L37.8,160.9 L38.3,160.7 L38.8,160.4 L39.3,160.0 L39.8,159.7 L40.3,159.4 L40.8,159.0 L41.3,158.6 L41.8,158.1 L42.3,157.7 L42.8,157.2 L43.3,156.7 L43.8,156.1 L44.3,155.5 L44.8,154.9 L45.3,154.3 L45.8,153.7 L46.3,153.0 L46.8,152.3 L47.3,151.5 L47.8,150.8 L48.3,150.0 L48.8,149.2 L49.3,148.4 L49.8,147.5 L50.3,146.7 L50.8,145.8 L51.3,144.9 L51.8,144.0 L52.3,143.1 L52.8,142.2 L53.3,141.3 L53.8,140.4 L54.3,139.5 L54.8,138.6 L55.3,137.7 L55.8,136.8 L56.3,136.0 L56.8,135.2 L57.3,134.4 L57.8,133.6 L58.3,132.9 L58.8,132.2 L59.3,131.5 L59.8,130.9 L60.3,130.3 L60.8,129.8 L61.3,129.3 L61.8,128.9 L62.3,128.6 L62.8,128.3 L63.3,128.0 L63.8,127.9 L64.3,127.8 L64.8,127.7 L65.3,127.7 L65.8,127.8 L66.3,127.9 L66.8,128.1 L67.3,128.4 L67.8,128.7 L68.3,129.1 L68.8,129.5 L69.3,130.0 L69.8,130.5 L70.3,131.1 L70.8,131.7 L71.3,132.4 L71.8,133.1 L72.3,133.8 L72.8,134.6 L73.3,135.4 L73.8,136.2 L74.3,137.1 L74.8,138.0 L75.3,138.8 L75.8,139.7 L76.3,140.6 L76.8,141.6 L77.3,142.5 L77.8,143.4 L78.3,144.3 L78.8,145.2 L79.3,146.0 L79.8,146.9 L80.3,147.8 L80.8,148.6 L81.3,149.4 L81.8,150.2 L82.3,151.0 L82.8,151.8 L83.3,152.5 L83.8,153.2 L84.3,153.9 L84.8,154.5 L85.3,155.1 L85.8,155.7 L86.3,156.3 L86.8,156.8 L87.3,157.3 L87.8,157.8 L88.3,158.3 L88.8,158.7 L89.3,159.1 L89.8,159.5 L90.3,159.8 L90.8,160.1 L91.3,160.5 L91.8,160.7 L92.3,161.0 L92.8,161.3 L93.3,161.5 L93.8,161.7 L94.3,161.9 L94.8,162.1 L95.3,162.2 L95.8,162.4 L96.3,162.5 L96.8,162.6 L97.3,162.7 L97.8,162.8 L98.3,162.9 L98.8,163.0 L99.3,163.1 L99.8,163.2 L100.3,163.2 L100.8,163.3 L101.3,163.3 L101.8,163.4 L102.3,163.4 L102.8,163.4 L103.3,163.5" fill="none" stroke="#3a3a3a" stroke-width="1.2"/>
<path d="M54.5,163.5 L55.0,163.5 L55.5,163.5 L56.0,163.4 L56.5,163.4 L57.0,163.4 L57.5,163.4 L58.0,163.3 L58.5,163.3 L59.0,163.3 L59.5,163.3 L60.0,163.2 L60.5,163.2 L61.0,163.2 L61.5,163.1 L62.0,163.1 L62.5,163.0 L63.0,163.0 L63.5,162.9 L64.0,162.9 L64.5,162.8 L65.0,162.8 L65.5,162.7 L66.0,162.7 L66.5,162.6 L67.0,162.6 L67.5,162.5 L68.0,162.4 L68.5,162.4 L69.0,162.3 L69.5,162.2 L70.0,162.2 L70.5,162.1 L71.0,162.0 L71.5,162.0 L72.0,161.9 L72.5,161.8 L73.0,161.7 L73.5,161.7 L74.0,161.6 L74.5,161.5 L75.0,161.4 L75.5,161.3 L76.0,161.3 L76.5,161.2 L77.0,161.1 L77.5,161.1 L78.0,161.0 L78.5,160.9 L79.0,160.9 L79.5,160.8 L80.0,160.7 L80.5,160.7 L81.0,160.6 L81.5,160.6 L82.0,160.5 L82.5,160.5 L83.0,160.4 L83.5,160.4 L84.0,160.3 L84.5,160.3 L85.0,160.3 L85.5,160.3 L86.0,160.2 L86.5,160.2 L87.0,160.2 L87.5,160.2 L88.0,160.2 L88.5,160.2 L89.0,160.2 L89.5,160.2 L90.0,160.2 L90.5,160.3 L91.0,160.3 L91.5,160.3 L92.0,160.3 L92.5,160.4 L93.0,160.4 L93.5,160.5 L94.0,160.5 L94.5,160.6 L95.0,160.6 L95.5,160.7 L96.0,160.7 L96.5,160.8 L97.0,160.9 L97.5,160.9 L98.0,161.0 L98.5,161.1 L99.0,161.1 L99.5,161.2 L100.0,161.3 L100.5,161.4 L101.0,161.4 L101.5,161.5 L102.0,161.6 L102.5,161.7 L103.0,161.7 L103.5,161.8 L104.0,161.9 L104.5,162.0 L105.0,162.0 L105.5,162.1 L106.0,162.2 L106.5,162.2 L107.0,162.3 L107.5,162.4 L108.0,162.4 L108.5,162.5 L109.0,162.6 L109.5,162.6 L110.0,162.7 L110.5,162.7 L111.0,162.8 L111.5,162.8 L112.0,162.9 L112.5,162.9 L113.0,163.0 L113.5,163.0 L114.0,163.1 L114.5,163.1 L115.0,163.2 L115.5,163.2 L116.0,163.2 L116.5,163.3 L117.0,163.3 L117.5,163.3 L118.0,163.3 L118.5,163.4 L119.0,163.4 L119.5,163.4 L120.0,163.4 L120.5,163.5 L121.0,163.5" fill="none" stroke="#3a3a3a" stroke-width="1.2"/>
<path d="M12.7,162.8 L13.2,162.8 L13.7,162.7 L14.2,162.6 L14.7,162.6 L15.2,162.5 L15.7,162.5 L16.2,162.5 L16.7,162.6 L17.2,162.6 L17.7,162.7 L18.2,162.8 L18.7,162.8 L19.2,162.9 L19.7,162.9 L20.2,162.9 L20.7,162.9 L21.2,162.9 L21.7,162.8 L22.2,162.7 L22.7,162.6 L23.2,162.4 L23.7,162.2 L24.2,162.0 L24.7,161.9 L25.2,161.8 L25.7,161.8 L26.2,161.7 L26.7,161.7 L27.2,161.7 L27.7,161.8 L28.2,162.0 L28.7,162.2 L29.2,162.5 L29.7,162.8 L30.2,163.0 L30.7,163.1 L31.2,163.0 L31.7,162.9 L32.2,162.7 L32.7,162.4 L33.2,162.2 L33.7,162.1 L34.2,160.6 L34.7,159.8 L35.2,158.9 L35.7,158.0 L36.2,157.1 L36.7,156.3 L37.2,155.7 L37.7,155.1 L38.2,154.5 L38.7,153.7 L39.2,152.7 L39.7,151.5 L40.2,150.1 L40.7,148.5 L41.2,146.7 L41.7,145.0 L42.2,143.1 L42.7,141.4 L43.2,139.4 L43.7,137.2 L44.2,134.8 L44.7,132.6 L45.2,130.4 L45.7,128.3 L46.2,126.2 L46.7,124.4 L47.2,122.6 L47.7,121.0 L48.2,119.5 L48.7,118.2 L49.2,117.2 L49.7,116.2 L50.2,115.4 L50.7,114.6 L51.2,113.9 L51.7,113.2 L52.2,112.7 L52.7,112.3 L53.2,112.3 L53.7,112.5 L54.2,113.0 L54.7,113.7 L55.2,114.3 L55.7,115.2 L56.2,116.1 L56.7,117.0 L57.2,117.7 L57.7,118.3 L58.2,118.7 L58.7,119.2 L59.2,119.6 L59.7,120.0 L60.2,120.4 L60.7,120.7 L61.2,121.0 L61.7,121.2 L62.2,121.5 L62.7,121.7 L63.2,121.9 L63.7,122.2 L64.2,122.5 L64.7,122.9 L65.2,123.3 L65.7,123.8 L66.2,124.3 L66.7,124.8 L67.2,125.2 L67.7,125.7 L68.2,126.3 L68.7,126.9 L69.2,127.4 L69.7,128.0 L70.2,128.5 L70.7,129.0 L71.2,129.4 L71.7,129.9 L72.2,130.5 L72.7,131.1 L73.2,131.9 L73.7,132.8 L74.2,133.7 L74.7,134.6 L75.2,135.6 L75.7,136.4 L76.2,137.1 L76.7,137.8 L77.2,138.5 L77.7,139.1 L78.2,139.7 L78.7,140.4 L79.2,141.0 L79.7,141.7 L80.2,142.3 L80.7,143.0 L81.2,143.6 L81.7,144.3 L82.2,144.9 L82.7,145.5 L83.2,146.1 L83.7,146.8 L84.2,147.4 L84.7,148.1 L85.2,148.9 L85.7,149.8 L86.2,150.8 L86.7,151.7 L87.2,152.5 L87.7,153.2 L88.2,153.7 L88.7,154.0 L89.2,154.3 L89.7,154.5 L90.2,154.6 L90.7,154.8 L91.2,155.1 L91.7,155.4 L92.2,155.7 L92.7,156.1 L93.2,156.5 L93.7,156.9 L94.2,157.3 L94.7,157.7 L95.2,158.0 L95.7,158.3 L96.2,158.6 L96.7,158.9 L97.2,159.1 L97.7,159.2 L98.2,159.3 L98.7,159.5 L99.2,159.6 L99.7,159.8 L100.2,160.0 L100.7,160.2 L101.2,160.5 L101.7,160.7 L102.2,160.9 L102.7,161.1 L103.2,161.2 L103.7,161.2 L104.2,161.1 L104.7,161.1 L105.2,161.1 L105.7,161.2 L106.2,161.5 L106.7,161.7 L107.2,161.9 L107.7,162.1 L108.2,162.2 L108.7,162.3 L109.2,162.3 L109.7,162.2 L110.2,162.1 L110.7,162.0 L111.2,161.9 L111.7,161.9 L112.2,162.0 L112.7,162.1 L113.2,162.3 L113.7,162.5 L114.2,162.6 L114.7,162.8 L115.2,162.8 L115.7,162.9 L116.2,162.9 L116.7,162.9 L117.2,162.8 L117.7,162.8 L118.2,162.6 L118.7,162.4 L119.2,162.2 L119.7,161.9 L120.2,161.7 L120.7,161.6 L121.2,161.5 L121.7,161.5 L122.2,161.6 L122.7,161.6 L123.2,161.7 L123.7,161.7 L124.2,161.7 L124.7,161.7 L125.2,161.7 L125.7,161.8 L126.2,161.8 L126.7,161.9 L127.2,162.1 L127.7,162.3 L128.2,162.6 L128.7,162.9 L129.2,163.1 L129.7,163.2 L130.2,163.1 L130.7,163.0 L131.2,162.8 L131.7,162.6 L132.2,162.5 L132.7,162.4 L133.2,162.4 L133.7,162.4 L134.2,162.5 L134.7,162.6 L135.2,162.7 L135.7,162.7 L136.2,162.7 L136.7,162.6 L137.2,162.5 L137.7,162.4 L138.2,162.3 L138.7,162.3 L139.2,162.3 L139.7,162.3 L140.2,162.4 L140.7,162.5 L141.2,162.6 L141.7,162.6 L142.2,162.6 L142.7,162.6 L143.2,162.6 L143.7,162.5 L144.2,162.5 L144.7,162.5 L145.2,162.5 L145.7,162.4 L146.2,162.4 L146.7,162.4 L147.2,162.4 L147.7,162.4 L148.2,162.5 L148.7,162.6 L149.2,162.6 L149.7,162.7 L150.2,162.8 L150.7,162.8 L151.2,162.9 L151.7,162.9 L152.2,162.8 L152.7,162.8 L153.2,162.8 L153.7,162.9 L154.2,162.9 L154.7,163.0 L155.2,163.2 L155.7,163.3 L156.2,163.3 L156.7,163.4 L157.2,163.4 L157.7,163.3 L158.2,163.2 L158.7,163.1 L159.2,163.1 L159.7,163.1 L160.2,163.1 L160.7,163.2 L161.2,163.2 L161.7,163.3 L162.2,163.4 L162.7,163.5 L163.2,163.5 L163.7,163.4 L164.2,163.4 L164.7,163.4 L165.2,163.4 L165.7,163.4 L166.2,163.4 L166.7,163.4 L167.2,163.5 L167.7,163.5 L168.2,163.6 L168.7,163.6" fill="none" stroke="#2233ee" stroke-width="0.9"/>
<path d="M12.7,163.6 L13.0,163.6 L13.3,163.6 L13.6,163.6 L14.0,163.6 L14.3,163.6 L14.8,163.6 L15.2,163.6 L15.7,163.6 L16.2,163.6 L16.7,163.6 L17.2,163.6 L17.7,163.6 L18.3,163.6 L18.9,163.6 L19.4,163.6 L20.0,163.6 L20.6,163.5 L21.2,163.5 L21.8,163.5 L22.4,163.5 L23.0,163.5 L23.7,163.5 L24.3,163.5 L24.8,163.5 L25.4,163.5 L26.0,163.5 L26.6,163.5 L27.1,163.5 L27.7,163.5 L28.2,163.5 L28.7,163.5 L29.2,163.5 L29.6,163.5 L30.1,163.4 L30.5,163.4 L30.8,163.4 L31.2,163.4 L31.5,163.4 L31.8,163.4 L33.4,163.4 L33.7,163.4 L33.5,163.2 L33.6,162.8 L34.0,162.3 L34.4,161.7 L34.8,160.9 L35.3,160.1 L35.7,159.3 L36.2,158.5 L36.7,157.7 L37.1,157.0 L37.6,156.3 L38.1,155.4 L38.6,154.4 L39.1,153.2 L39.5,152.1 L40.0,150.8 L40.5,149.4 L41.0,147.9 L41.5,146.4 L41.9,145.0 L42.3,143.6 L42.7,142.3 L43.3,140.0 L43.7,138.0 L44.1,136.0 L44.5,134.0 L45.0,131.9 L45.4,129.9 L45.9,127.9 L46.4,125.9 L46.8,124.6 L47.2,123.3 L47.6,122.0 L48.0,120.8 L48.5,119.6 L49.0,118.5 L49.5,117.6 L49.9,116.6 L50.4,115.7 L51.0,114.9 L51.5,114.2 L51.9,113.6 L52.4,113.3 L52.9,113.2 L53.3,113.5 L53.8,113.9 L54.2,114.4 L54.6,115.0 L55.0,115.5 L55.4,116.1 L55.8,116.7 L56.2,117.3 L56.7,118.0 L57.3,118.6 L57.7,118.9 L58.1,119.3 L58.5,119.6 L59.0,119.9 L59.5,120.2 L60.0,120.6 L60.5,120.9 L61.0,121.2 L61.5,121.6 L62.0,121.9 L62.5,122.3 L63.0,122.6 L63.5,122.9 L64.0,123.3 L64.5,123.6 L65.0,123.9 L65.5,124.3 L66.0,124.6 L66.4,125.0 L66.9,125.4 L67.3,125.8 L67.7,126.2 L68.1,126.7 L68.5,127.2 L69.0,127.8 L69.6,128.5 L70.0,129.0 L70.4,129.6 L70.9,130.2 L71.4,130.9 L71.9,131.6 L72.5,132.4 L73.0,133.1 L73.5,133.9 L74.1,134.6 L74.6,135.3 L75.0,136.0 L75.5,136.6 L76.0,137.3 L76.5,138.0 L77.0,138.6 L77.4,139.3 L77.8,139.9 L78.3,140.5 L78.7,141.1 L79.1,141.7 L79.6,142.4 L80.0,143.0 L80.5,143.7 L80.9,144.3 L81.4,145.0 L81.8,145.7 L82.3,146.3 L82.7,147.0 L83.2,147.7 L83.6,148.3 L84.1,148.9 L84.5,149.5 L85.0,150.1 L85.4,150.7 L85.9,151.3 L86.3,151.9 L86.7,152.4 L87.2,152.9 L87.6,153.4 L88.0,153.9 L88.5,154.3 L89.0,154.7 L89.4,155.0 L89.9,155.3 L90.3,155.6 L90.8,155.8 L91.3,156.1 L91.8,156.3 L92.2,156.5 L92.7,156.8 L93.2,157.1 L93.6,157.4 L94.0,157.6 L94.4,157.9 L94.8,158.2 L95.3,158.5 L95.8,158.7 L96.4,159.0 L97.0,159.3 L97.4,159.5 L97.8,159.6 L98.2,159.8 L98.7,160.0 L99.2,160.1 L99.7,160.3 L100.2,160.5 L100.7,160.7 L101.2,160.8 L101.7,161.0 L102.2,161.2 L102.8,161.3 L103.2,161.5 L103.7,161.6 L104.2,161.8 L104.6,161.9 L105.0,162.0 L105.5,162.1 L105.8,162.3 L105.9,162.4 L106.0,162.4 L106.1,162.5 L106.2,162.6 L106.5,162.6 L106.9,162.6 L107.6,162.7 L108.6,162.7 L110.0,162.8 L110.3,162.8 L110.6,162.8 L110.9,162.8 L111.3,162.8 L111.6,162.9 L112.0,162.9 L112.3,162.9 L112.7,162.9 L113.1,162.9 L113.5,162.9 L113.9,162.9 L114.3,163.0 L114.8,163.0 L115.2,163.0 L115.7,163.0 L116.1,163.0 L116.6,163.0 L117.1,163.0 L117.5,163.0 L118.0,163.1 L118.5,163.1 L119.0,163.1 L119.5,163.1 L120.1,163.1 L120.6,163.1 L121.1,163.1 L121.6,163.1 L122.2,163.2 L122.7,163.2 L123.2,163.2 L123.8,163.2 L124.3,163.2 L124.9,163.2 L125.4,163.2 L126.0,163.2 L126.6,163.3 L127.1,163.3 L127.7,163.3 L128.2,163.3 L128.8,163.3 L129.3,163.3 L129.9,163.3 L130.5,163.3 L131.0,163.3 L131.6,163.4 L132.1,163.4 L132.7,163.4 L133.2,163.4 L133.8,163.4 L134.3,163.4 L134.9,163.4 L135.4,163.4 L135.9,163.4 L136.5,163.4 L137.0,163.5 L137.5,163.5 L138.0,163.5 L138.5,163.5 L139.0,163.5 L139.5,163.5 L140.0,163.5 L140.5,163.5 L141.0,163.5 L141.6,163.5 L142.1,163.5 L142.6,163.5 L143.2,163.5 L143.7,163.5 L144.3,163.6 L144.8,163.6 L145.4,163.6 L146.0,163.6 L146.5,163.6 L147.1,163.6 L147.7,163.6 L148.2,163.6 L148.8,163.6 L149.4,163.6 L150.0,163.6 L150.6,163.6 L151.1,163.6 L151.7,163.6 L152.3,163.6 L152.9,163.6 L153.4,163.6 L154.0,163.6 L154.6,163.6 L155.2,163.6 L155.7,163.6 L156.3,163.6 L156.8,163.6 L157.4,163.6 L157.9,163.7 L158.5,163.7 L159.0,163.7 L159.5,163.7 L160.0,163.7 L160.5,163.7 L161.0,163.7 L161.5,163.7 L162.0,163.7 L162.5,163.7 L163.0,163.7 L163.4,163.7 L163.9,163.7 L164.3,163.7 L164.7,163.7 L165.1,163.7 L165.5,163.7 L165.9,163.7 L166.3,163.7 L166.7,163.7 L167.0,163.7 L167.4,163.7 L167.7,163.7 L168.0,163.7 L168.3,163.7 L168.5,163.7 L168.8,163.7" fill="none" stroke="#38b038" stroke-width="1.0"/>
<line x1="30" y1="217.2" x2="168.8" y2="217.2" stroke="#666" stroke-width="0.8"/>
<path d="M32.2,217.0 L32.7,216.6 L33.2,215.7 L33.7,213.8 L34.2,210.5 L34.7,205.4 L35.2,199.0 L35.7,192.5 L36.2,187.7 L36.7,186.2 L37.2,188.5 L37.7,193.8 L38.2,200.5 L38.7,206.6 L39.2,211.3 L39.7,214.3 L40.2,216.0 L40.7,216.7" fill="none" stroke="#3a3a3a" stroke-width="1.2"/>
<path d="M26.6,217.0 L27.1,216.9 L27.6,216.9 L28.1,216.8 L28.6,216.7 L29.1,216.6 L29.6,216.5 L30.1,216.3 L30.6,216.1 L31.1,215.9 L31.6,215.6 L32.1,215.3 L32.6,215.0 L33.1,214.6 L33.6,214.1 L34.1,213.6 L34.6,213.0 L35.1,212.4 L35.6,211.6 L36.1,210.8 L36.6,209.9 L37.1,208.9 L37.6,207.8 L38.1,206.7 L38.6,205.5 L39.1,204.1 L39.6,202.8 L40.1,201.3 L40.6,199.8 L41.1,198.2 L41.6,196.7 L42.1,195.1 L42.6,193.4 L43.1,191.8 L43.6,190.3 L44.1,188.8 L44.6,187.3 L45.1,185.9 L45.6,184.7 L46.1,183.5 L46.6,182.5 L47.1,181.7 L47.6,181.0 L48.1,180.5 L48.6,180.2 L49.1,180.0 L49.6,180.1 L50.1,180.3 L50.6,180.7 L51.1,181.3 L51.6,182.1 L52.1,183.0 L52.6,184.1 L53.1,185.3 L53.6,186.6 L54.1,188.0 L54.6,189.5 L55.1,191.0 L55.6,192.6 L56.1,194.2 L56.6,195.8 L57.1,197.4 L57.6,199.0 L58.1,200.5 L58.6,202.0 L59.1,203.4 L59.6,204.8 L60.1,206.1 L60.6,207.3 L61.1,208.4 L61.6,209.4 L62.1,210.3 L62.6,211.2 L63.1,212.0 L63.6,212.7 L64.1,213.3 L64.6,213.9 L65.1,214.4 L65.6,214.8 L66.1,215.2 L66.6,215.5 L67.1,215.8 L67.6,216.0 L68.1,216.2 L68.6,216.4 L69.1,216.5 L69.6,216.7 L70.1,216.8 L70.6,216.8 L71.1,216.9 L71.6,217.0" fill="none" stroke="#3a3a3a" stroke-width="1.2"/>
<path d="M37.9,217.0 L38.4,217.0 L38.9,216.9 L39.4,216.9 L39.9,216.8 L40.4,216.8 L40.9,216.7 L41.4,216.6 L41.9,216.5 L42.4,216.4 L42.9,216.3 L43.4,216.2 L43.9,216.1 L44.4,215.9 L44.9,215.8 L45.4,215.6 L45.9,215.4 L46.4,215.1 L46.9,214.9 L47.4,214.6 L47.9,214.3 L48.4,214.0 L48.9,213.6 L49.4,213.2 L49.9,212.8 L50.4,212.3 L50.9,211.8 L51.4,211.3 L51.9,210.7 L52.4,210.1 L52.9,209.5 L53.4,208.8 L53.9,208.0 L54.4,207.3 L54.9,206.5 L55.4,205.7 L55.9,204.8 L56.4,203.9 L56.9,202.9 L57.4,202.0 L57.9,201.0 L58.4,200.0 L58.9,198.9 L59.4,197.9 L59.9,196.8 L60.4,195.8 L60.9,194.7 L61.4,193.6 L61.9,192.6 L62.4,191.5 L62.9,190.5 L63.4,189.5 L63.9,188.6 L64.4,187.6 L64.9,186.8 L65.4,185.9 L65.9,185.2 L66.4,184.4 L66.9,183.8 L67.4,183.2 L67.9,182.7 L68.4,182.3 L68.9,181.9 L69.4,181.6 L69.9,181.4 L70.4,181.3 L70.9,181.3 L71.4,181.4 L71.9,181.5 L72.4,181.8 L72.9,182.1 L73.4,182.5 L73.9,183.0 L74.4,183.5 L74.9,184.1 L75.4,184.8 L75.9,185.6 L76.4,186.4 L76.9,187.2 L77.4,188.1 L77.9,189.1 L78.4,190.1 L78.9,191.1 L79.4,192.1 L79.9,193.2 L80.4,194.2 L80.9,195.3 L81.4,196.4 L81.9,197.4 L82.4,198.5 L82.9,199.5 L83.4,200.5 L83.9,201.5 L84.4,202.5 L84.9,203.5 L85.4,204.4 L85.9,205.3 L86.4,206.1 L86.9,206.9 L87.4,207.7 L87.9,208.4 L88.4,209.1 L88.9,209.8 L89.4,210.4 L89.9,211.0 L90.4,211.6 L90.9,212.1 L91.4,212.6 L91.9,213.0 L92.4,213.4 L92.9,213.8 L93.4,214.1 L93.9,214.5 L94.4,214.8 L94.9,215.0 L95.4,215.3 L95.9,215.5 L96.4,215.7 L96.9,215.9 L97.4,216.0 L97.9,216.2 L98.4,216.3 L98.9,216.4 L99.4,216.5 L99.9,216.6 L100.4,216.7 L100.9,216.7 L101.4,216.8 L101.9,216.9 L102.4,216.9 L102.9,216.9 L103.4,217.0" fill="none" stroke="#3a3a3a" stroke-width="1.2"/>
<path d="M59.5,217.0 L60.0,217.0 L60.5,216.9 L61.0,216.9 L61.5,216.9 L62.0,216.8 L62.5,216.8 L63.0,216.8 L63.5,216.7 L64.0,216.7 L64.5,216.6 L65.0,216.5 L65.5,216.5 L66.0,216.4 L66.5,216.3 L67.0,216.2 L67.5,216.1 L68.0,216.0 L68.5,215.9 L69.0,215.8 L69.5,215.7 L70.0,215.6 L70.5,215.4 L71.0,215.3 L71.5,215.1 L72.0,215.0 L72.5,214.8 L73.0,214.6 L73.5,214.4 L74.0,214.2 L74.5,214.0 L75.0,213.8 L75.5,213.6 L76.0,213.3 L76.5,213.1 L77.0,212.8 L77.5,212.6 L78.0,212.3 L78.5,212.0 L79.0,211.8 L79.5,211.5 L80.0,211.2 L80.5,210.9 L81.0,210.6 L81.5,210.4 L82.0,210.1 L82.5,209.8 L83.0,209.5 L83.5,209.2 L84.0,208.9 L84.5,208.7 L85.0,208.4 L85.5,208.1 L86.0,207.9 L86.5,207.6 L87.0,207.4 L87.5,207.2 L88.0,207.0 L88.5,206.8 L89.0,206.6 L89.5,206.5 L90.0,206.3 L90.5,206.2 L91.0,206.1 L91.5,206.0 L92.0,205.9 L92.5,205.8 L93.0,205.8 L93.5,205.8 L94.0,205.8 L94.5,205.8 L95.0,205.9 L95.5,205.9 L96.0,206.0 L96.5,206.1 L97.0,206.2 L97.5,206.4 L98.0,206.5 L98.5,206.7 L99.0,206.9 L99.5,207.1 L100.0,207.3 L100.5,207.5 L101.0,207.8 L101.5,208.0 L102.0,208.3 L102.5,208.5 L103.0,208.8 L103.5,209.1 L104.0,209.4 L104.5,209.6 L105.0,209.9 L105.5,210.2 L106.0,210.5 L106.5,210.8 L107.0,211.1 L107.5,211.4 L108.0,211.6 L108.5,211.9 L109.0,212.2 L109.5,212.4 L110.0,212.7 L110.5,213.0 L111.0,213.2 L111.5,213.4 L112.0,213.7 L112.5,213.9 L113.0,214.1 L113.5,214.3 L114.0,214.5 L114.5,214.7 L115.0,214.9 L115.5,215.0 L116.0,215.2 L116.5,215.3 L117.0,215.5 L117.5,215.6 L118.0,215.8 L118.5,215.9 L119.0,216.0 L119.5,216.1 L120.0,216.2 L120.5,216.3 L121.0,216.4 L121.5,216.4 L122.0,216.5 L122.5,216.6 L123.0,216.6 L123.5,216.7 L124.0,216.7 L124.5,216.8 L125.0,216.8 L125.5,216.9 L126.0,216.9 L126.5,216.9 L127.0,217.0 L127.5,217.0" fill="none" stroke="#3a3a3a" stroke-width="1.2"/>
<path d="M12.7,215.7 L13.2,215.7 L13.7,215.8 L14.2,215.9 L14.7,216.0 L15.2,216.1 L15.7,216.1 L16.2,216.1 L16.7,216.1 L17.2,216.0 L17.7,215.9 L18.2,215.8 L18.7,215.7 L19.2,215.7 L19.7,215.7 L20.2,215.6 L20.7,215.6 L21.2,215.6 L21.7,215.6 L22.2,215.7 L22.7,215.7 L23.2,215.8 L23.7,215.9 L24.2,216.0 L24.7,216.1 L25.2,216.3 L25.7,216.4 L26.2,216.6 L26.7,216.7 L27.2,216.8 L27.7,216.9 L28.2,216.9 L28.7,216.9 L29.2,216.8 L29.7,216.7 L30.2,216.6 L30.7,216.6 L31.2,215.6 L31.7,214.9 L32.2,214.0 L32.7,212.6 L33.2,210.5 L33.7,207.6 L34.2,202.9 L34.7,196.5 L35.2,191.1 L35.7,186.0 L36.2,181.8 L36.7,179.0 L37.2,179.5 L37.7,183.2 L38.2,187.7 L38.7,191.1 L39.2,193.7 L39.7,195.6 L40.2,196.1 L40.7,195.3 L41.2,193.8 L41.7,192.0 L42.2,190.3 L42.7,188.7 L43.2,187.4 L43.7,186.1 L44.2,184.9 L44.7,183.6 L45.2,182.4 L45.7,181.2 L46.2,179.9 L46.7,178.7 L47.2,177.4 L47.7,176.1 L48.2,174.8 L48.7,173.7 L49.2,172.7 L49.7,171.8 L50.2,171.0 L50.7,170.3 L51.2,169.7 L51.7,169.2 L52.2,169.0 L52.7,169.0 L53.2,169.3 L53.7,170.0 L54.2,170.9 L54.7,171.8 L55.2,172.7 L55.7,173.5 L56.2,174.5 L56.7,175.4 L57.2,176.3 L57.7,177.2 L58.2,177.9 L58.7,178.6 L59.2,179.3 L59.7,179.8 L60.2,180.2 L60.7,180.4 L61.2,180.4 L61.7,180.4 L62.2,180.3 L62.7,180.2 L63.2,180.0 L63.7,179.7 L64.2,179.4 L64.7,179.0 L65.2,178.6 L65.7,178.2 L66.2,177.8 L66.7,177.4 L67.2,177.1 L67.7,176.8 L68.2,176.6 L68.7,176.4 L69.2,176.2 L69.7,176.1 L70.2,176.0 L70.7,176.0 L71.2,176.1 L71.7,176.2 L72.2,176.4 L72.7,176.6 L73.2,176.9 L73.7,177.3 L74.2,177.6 L74.7,178.0 L75.2,178.4 L75.7,178.8 L76.2,179.2 L76.7,179.6 L77.2,180.2 L77.7,180.8 L78.2,181.4 L78.7,182.1 L79.2,182.7 L79.7,183.5 L80.2,184.2 L80.7,184.9 L81.2,185.6 L81.7,186.3 L82.2,186.8 L82.7,187.3 L83.2,187.8 L83.7,188.2 L84.2,188.7 L84.7,189.3 L85.2,190.1 L85.7,190.9 L86.2,191.8 L86.7,192.7 L87.2,193.6 L87.7,194.4 L88.2,195.1 L88.7,195.8 L89.2,196.4 L89.7,196.9 L90.2,197.5 L90.7,198.0 L91.2,198.4 L91.7,198.9 L92.2,199.3 L92.7,199.6 L93.2,200.0 L93.7,200.2 L94.2,200.5 L94.7,200.6 L95.2,200.8 L95.7,201.0 L96.2,201.2 L96.7,201.5 L97.2,201.8 L97.7,202.3 L98.2,202.8 L98.7,203.3 L99.2,203.7 L99.7,204.2 L100.2,204.5 L100.7,204.7 L101.2,204.9 L101.7,205.1 L102.2,205.3 L102.7,205.6 L103.2,206.1 L103.7,206.6 L104.2,207.2 L104.7,207.9 L105.2,208.4 L105.7,208.9 L106.2,209.3 L106.7,209.6 L107.2,209.8 L107.7,210.0 L108.2,210.2 L108.7,210.4 L109.2,210.6 L109.7,210.7 L110.2,210.8 L110.7,210.9 L111.2,211.0 L111.7,211.1 L112.2,211.2 L112.7,211.2 L113.2,211.3 L113.7,211.3 L114.2,211.4 L114.7,211.6 L115.2,211.8 L115.7,212.1 L116.2,212.4 L116.7,212.8 L117.2,213.0 L117.7,213.3 L118.2,213.3 L118.7,213.4 L119.2,213.3 L119.7,213.3 L120.2,213.3 L120.7,213.4 L121.2,213.5 L121.7,213.7 L122.2,213.9 L122.7,214.1 L123.2,214.3 L123.7,214.5 L124.2,214.6 L124.7,214.7 L125.2,214.8 L125.7,214.9 L126.2,214.9 L126.7,214.9 L127.2,214.9 L127.7,214.9 L128.2,214.8 L128.7,214.8 L129.2,214.7 L129.7,214.7 L130.2,214.7 L130.7,214.7 L131.2,214.7 L131.7,214.7 L132.2,214.7 L132.7,214.8 L133.2,214.8 L133.7,214.9 L134.2,215.0 L134.7,215.1 L135.2,215.2 L135.7,215.2 L136.2,215.2 L136.7,215.2 L137.2,215.2 L137.7,215.2 L138.2,215.1 L138.7,215.1 L139.2,215.0 L139.7,215.0 L140.2,214.9 L140.7,214.8 L141.2,214.8 L141.7,214.8 L142.2,214.8 L142.7,214.8 L143.2,214.9 L143.7,214.9 L144.2,215.0 L144.7,215.1 L145.2,215.3 L145.7,215.5 L146.2,215.7 L146.7,215.9 L147.2,216.0 L147.7,216.0 L148.2,215.9 L148.7,215.8 L149.2,215.5 L149.7,215.3 L150.2,215.0 L150.7,214.9 L151.2,214.8 L151.7,214.8 L152.2,214.8 L152.7,214.8 L153.2,214.9 L153.7,215.0 L154.2,215.1 L154.7,215.3 L155.2,215.5 L155.7,215.7 L156.2,215.9 L156.7,216.0 L157.2,215.9 L157.7,215.9 L158.2,215.7 L158.7,215.6 L159.2,215.5 L159.7,215.4 L160.2,215.5 L160.7,215.5 L161.2,215.6 L161.7,215.7 L162.2,215.8 L162.7,215.9 L163.2,215.9 L163.7,215.9 L164.2,215.9 L164.7,215.9 L165.2,215.8 L165.7,215.8 L166.2,215.8 L166.7,215.7 L167.2,215.7 L167.7,215.6 L168.2,215.6 L168.7,215.6" fill="none" stroke="#2233ee" stroke-width="0.9"/>
<path d="M12.7,217.2 L13.0,217.2 L13.3,217.2 L13.6,217.2 L14.0,217.2 L14.4,217.2 L14.9,217.2 L15.3,217.2 L15.8,217.2 L16.4,217.2 L16.9,217.2 L17.5,217.2 L18.0,217.2 L18.6,217.2 L19.2,217.2 L19.8,217.2 L20.4,217.2 L21.0,217.2 L21.6,217.2 L22.2,217.2 L22.8,217.2 L23.4,217.2 L24.0,217.2 L24.6,217.2 L25.1,217.2 L25.7,217.2 L26.2,217.2 L26.7,217.2 L27.2,217.2 L27.6,217.1 L28.0,217.1 L28.4,217.1 L28.7,217.1 L29.0,217.1 L30.3,217.0 L30.8,217.0 L30.9,216.8 L30.8,216.6 L31.0,216.3 L31.5,215.7 L31.9,215.0 L32.3,214.1 L32.7,213.0 L33.2,211.1 L33.6,208.7 L34.0,206.0 L34.4,201.6 L34.8,196.0 L35.1,192.8 L35.5,188.7 L36.0,184.7 L36.4,181.6 L36.8,180.0 L37.2,181.0 L37.7,184.1 L38.1,188.0 L38.5,191.0 L38.9,193.2 L39.3,195.1 L39.7,196.5 L40.2,197.0 L40.6,196.6 L40.9,195.7 L41.3,194.4 L41.7,193.0 L42.2,191.4 L42.7,190.0 L43.1,188.9 L43.6,187.8 L44.0,186.7 L44.5,185.5 L45.0,184.3 L45.5,183.1 L46.0,182.0 L46.4,180.9 L46.9,179.8 L47.3,178.6 L47.7,177.5 L48.1,176.5 L48.5,175.5 L49.0,174.6 L49.4,173.8 L49.9,173.0 L50.3,172.3 L50.8,171.6 L51.3,171.0 L51.7,170.5 L52.2,170.2 L52.6,170.0 L53.1,170.0 L53.6,170.4 L54.0,171.0 L54.5,171.7 L55.0,172.5 L55.4,173.2 L55.8,173.9 L56.3,174.8 L56.7,175.7 L57.1,176.5 L57.6,177.3 L58.0,178.0 L58.5,178.7 L58.9,179.3 L59.3,179.8 L59.8,180.3 L60.3,180.6 L60.8,180.8 L61.2,180.8 L61.6,180.8 L62.0,180.7 L62.5,180.6 L62.9,180.4 L63.4,180.3 L63.9,180.0 L64.5,179.8 L65.0,179.6 L65.4,179.4 L65.9,179.2 L66.4,178.9 L66.9,178.7 L67.4,178.4 L68.0,178.1 L68.5,177.8 L69.0,177.6 L69.5,177.4 L70.0,177.2 L70.5,177.1 L70.9,177.0 L71.4,177.0 L71.9,177.1 L72.4,177.2 L72.9,177.4 L73.3,177.7 L73.8,177.9 L74.2,178.2 L74.6,178.5 L75.0,178.8 L75.5,179.1 L75.9,179.5 L76.4,179.8 L76.8,180.2 L77.3,180.7 L77.8,181.2 L78.4,182.0 L78.8,182.5 L79.2,183.1 L79.7,183.7 L80.2,184.4 L80.7,185.1 L81.2,185.8 L81.7,186.6 L82.2,187.3 L82.7,188.0 L83.2,188.8 L83.7,189.4 L84.1,190.0 L84.5,190.6 L85.1,191.4 L85.6,192.1 L86.0,192.8 L86.5,193.4 L86.9,194.0 L87.2,194.5 L87.6,195.0 L88.0,195.5 L88.5,196.1 L89.0,196.7 L89.4,197.2 L89.8,197.7 L90.3,198.1 L90.7,198.6 L91.2,199.0 L91.6,199.5 L92.1,199.9 L92.5,200.3 L93.0,200.6 L93.5,201.0 L93.9,201.3 L94.4,201.5 L94.8,201.8 L95.3,202.0 L95.8,202.3 L96.3,202.6 L96.9,203.0 L97.3,203.3 L97.7,203.5 L98.1,203.9 L98.5,204.2 L98.9,204.5 L99.4,204.9 L99.9,205.2 L100.3,205.6 L100.8,205.9 L101.3,206.3 L101.9,206.6 L102.4,207.0 L102.8,207.3 L103.2,207.5 L103.7,207.8 L104.1,208.1 L104.5,208.4 L105.0,208.7 L105.5,208.9 L105.9,209.2 L106.4,209.5 L106.9,209.8 L107.4,210.1 L107.9,210.3 L108.4,210.6 L108.9,210.8 L109.5,211.1 L110.0,211.3 L110.4,211.5 L110.9,211.6 L111.3,211.8 L111.8,211.9 L112.2,212.1 L112.7,212.2 L113.2,212.4 L113.6,212.5 L114.1,212.6 L114.6,212.8 L115.1,212.9 L115.6,213.0 L116.1,213.1 L116.6,213.2 L117.1,213.4 L117.6,213.5 L118.1,213.6 L118.6,213.7 L119.0,213.8 L119.5,213.9 L120.0,214.0 L120.5,214.1 L120.9,214.2 L121.3,214.3 L121.8,214.4 L122.2,214.5 L122.6,214.6 L123.0,214.6 L123.4,214.7 L123.8,214.8 L124.2,214.9 L124.6,214.9 L125.0,215.0 L125.5,215.1 L125.9,215.2 L126.4,215.2 L126.9,215.3 L127.5,215.4 L128.0,215.4 L128.7,215.5 L129.3,215.5 L130.0,215.6 L130.4,215.6 L130.8,215.7 L131.2,215.7 L131.6,215.7 L132.0,215.7 L132.4,215.8 L132.8,215.8 L133.3,215.8 L133.7,215.9 L134.2,215.9 L134.7,215.9 L135.2,215.9 L135.6,216.0 L136.1,216.0 L136.6,216.0 L137.1,216.0 L137.6,216.1 L138.2,216.1 L138.7,216.1 L139.2,216.1 L139.7,216.1 L140.2,216.2 L140.8,216.2 L141.3,216.2 L141.8,216.2 L142.3,216.2 L142.9,216.3 L143.4,216.3 L143.9,216.3 L144.5,216.3 L145.0,216.3 L145.5,216.4 L146.0,216.4 L146.5,216.4 L147.0,216.4 L147.6,216.4 L148.1,216.4 L148.5,216.5 L149.0,216.5 L149.5,216.5 L150.0,216.5 L150.5,216.5 L151.0,216.5 L151.6,216.5 L152.1,216.6 L152.7,216.6 L153.2,216.6 L153.8,216.6 L154.4,216.6 L154.9,216.6 L155.5,216.6 L156.1,216.6 L156.7,216.6 L157.2,216.7 L157.8,216.7 L158.4,216.7 L159.0,216.7 L159.5,216.7 L160.1,216.7 L160.7,216.7 L161.2,216.7 L161.7,216.7 L162.3,216.7 L162.8,216.7 L163.3,216.7 L163.8,216.7 L164.3,216.7 L164.8,216.8 L165.2,216.8 L165.7,216.8 L166.1,216.8 L166.5,216.8 L166.9,216.8 L167.3,216.8 L167.6,216.8 L167.9,216.8 L168.3,216.8 L168.5,216.8 L168.8,216.8" fill="none" stroke="#38b038" stroke-width="1.0"/>
</g>
<rect x="12.7" y="1.5" width="156.1" height="221.5" fill="none" stroke="#1a1a1a" stroke-width="1.3"/>
<line x1="9.5" y1="1.5" x2="12.7" y2="1.5" stroke="#1a1a1a" stroke-width="1.3"/>
<line x1="9.5" y1="223.0" x2="12.7" y2="223.0" stroke="#1a1a1a" stroke-width="1.3"/>
<line x1="9.7" y1="223.00" x2="12.7" y2="223.00" stroke="#1a1a1a" stroke-width="0.9"/>
<line x1="10.7" y1="209.16" x2="12.7" y2="209.16" stroke="#1a1a1a" stroke-width="0.9"/>
<line x1="9.7" y1="195.32" x2="12.7" y2="195.32" stroke="#1a1a1a" stroke-width="0.9"/>
<line x1="10.7" y1="181.48" x2="12.7" y2="181.48" stroke="#1a1a1a" stroke-width="0.9"/>
<line x1="9.7" y1="167.64" x2="12.7" y2="167.64" stroke="#1a1a1a" stroke-width="0.9"/>
<line x1="10.7" y1="153.80" x2="12.7" y2="153.80" stroke="#1a1a1a" stroke-width="0.9"/>
<line x1="9.7" y1="139.96" x2="12.7" y2="139.96" stroke="#1a1a1a" stroke-width="0.9"/>
<line x1="10.7" y1="126.12" x2="12.7" y2="126.12" stroke="#1a1a1a" stroke-width="0.9"/>
<line x1="9.7" y1="112.28" x2="12.7" y2="112.28" stroke="#1a1a1a" stroke-width="0.9"/>
<line x1="10.7" y1="98.44" x2="12.7" y2="98.44" stroke="#1a1a1a" stroke-width="0.9"/>
<line x1="9.7" y1="84.60" x2="12.7" y2="84.60" stroke="#1a1a1a" stroke-width="0.9"/>
<line x1="10.7" y1="70.76" x2="12.7" y2="70.76" stroke="#1a1a1a" stroke-width="0.9"/>
<line x1="9.7" y1="56.92" x2="12.7" y2="56.92" stroke="#1a1a1a" stroke-width="0.9"/>
<line x1="10.7" y1="43.08" x2="12.7" y2="43.08" stroke="#1a1a1a" stroke-width="0.9"/>
<line x1="9.7" y1="29.24" x2="12.7" y2="29.24" stroke="#1a1a1a" stroke-width="0.9"/>
<line x1="10.7" y1="15.40" x2="12.7" y2="15.40" stroke="#1a1a1a" stroke-width="0.9"/>
<line x1="9.7" y1="1.56" x2="12.7" y2="1.56" stroke="#1a1a1a" stroke-width="0.9"/>
<line x1="12.70" y1="223.0" x2="12.70" y2="226.5" stroke="#1a1a1a" stroke-width="0.9"/>
<line x1="23.85" y1="223.0" x2="23.85" y2="225.0" stroke="#1a1a1a" stroke-width="0.9"/>
<line x1="35.00" y1="223.0" x2="35.00" y2="226.5" stroke="#1a1a1a" stroke-width="0.9"/>
<line x1="46.15" y1="223.0" x2="46.15" y2="225.0" stroke="#1a1a1a" stroke-width="0.9"/>
<line x1="57.30" y1="223.0" x2="57.30" y2="226.5" stroke="#1a1a1a" stroke-width="0.9"/>
<line x1="68.45" y1="223.0" x2="68.45" y2="225.0" stroke="#1a1a1a" stroke-width="0.9"/>
<line x1="79.60" y1="223.0" x2="79.60" y2="226.5" stroke="#1a1a1a" stroke-width="0.9"/>
<line x1="90.75" y1="223.0" x2="90.75" y2="225.0" stroke="#1a1a1a" stroke-width="0.9"/>
<line x1="101.90" y1="223.0" x2="101.90" y2="226.5" stroke="#1a1a1a" stroke-width="0.9"/>
<line x1="113.05" y1="223.0" x2="113.05" y2="225.0" stroke="#1a1a1a" stroke-width="0.9"/>
<line x1="124.20" y1="223.0" x2="124.20" y2="226.5" stroke="#1a1a1a" stroke-width="0.9"/>
<line x1="135.35" y1="223.0" x2="135.35" y2="225.0" stroke="#1a1a1a" stroke-width="0.9"/>
<line x1="146.50" y1="223.0" x2="146.50" y2="226.5" stroke="#1a1a1a" stroke-width="0.9"/>
<line x1="157.65" y1="223.0" x2="157.65" y2="225.0" stroke="#1a1a1a" stroke-width="0.9"/>
<line x1="168.80" y1="223.0" x2="168.80" y2="226.5" stroke="#1a1a1a" stroke-width="0.9"/>
<g clip-path="url(#cr)">
<path d="M214.6,56.7 L215.1,56.6 L215.6,56.6 L216.1,56.5 L216.6,56.4 L217.1,56.3 L217.6,56.1 L218.1,56.0 L218.6,55.8 L219.1,55.5 L219.6,55.3 L220.1,54.9 L220.6,54.6 L221.1,54.1 L221.6,53.6 L222.1,53.1 L222.6,52.4 L223.1,51.7 L223.6,50.9 L224.1,50.1 L224.6,49.1 L225.1,48.1 L225.6,47.0 L226.1,45.8 L226.6,44.5 L227.1,43.2 L227.6,41.8 L228.1,40.4 L228.6,38.9 L229.1,37.4 L229.6,35.9 L230.1,34.4 L230.6,32.9 L231.1,31.5 L231.6,30.1 L232.1,28.9 L232.6,27.7 L233.1,26.6 L233.6,25.7 L234.1,25.0 L234.6,24.3 L235.1,23.9 L235.6,23.7 L236.1,23.6 L236.6,23.7 L237.1,24.0 L237.6,24.5 L238.1,25.2 L238.6,26.0 L239.1,26.9 L239.6,28.0 L240.1,29.2 L240.6,30.5 L241.1,31.9 L241.6,33.3 L242.1,34.8 L242.6,36.3 L243.1,37.8 L243.6,39.3 L244.1,40.8 L244.6,42.2 L245.1,43.6 L245.6,44.9 L246.1,46.1 L246.6,47.3 L247.1,48.4 L247.6,49.4 L248.1,50.3 L248.6,51.2 L249.1,51.9 L249.6,52.6 L250.1,53.2 L250.6,53.8 L251.1,54.2 L251.6,54.7 L252.1,55.0 L252.6,55.3 L253.1,55.6 L253.6,55.8 L254.1,56.0 L254.6,56.2 L255.1,56.3 L255.6,56.4 L256.1,56.5 L256.6,56.6 L257.1,56.7" fill="none" stroke="#3a3a3a" stroke-width="1.2"/>
<path d="M219.7,56.7 L220.2,56.7 L220.7,56.6 L221.2,56.6 L221.7,56.6 L222.2,56.5 L222.7,56.5 L223.2,56.4 L223.7,56.3 L224.2,56.3 L224.7,56.2 L225.2,56.1 L225.7,56.0 L226.2,55.9 L226.7,55.8 L227.2,55.7 L227.7,55.5 L228.2,55.4 L228.7,55.2 L229.2,55.0 L229.7,54.8 L230.2,54.6 L230.7,54.4 L231.2,54.2 L231.7,53.9 L232.2,53.6 L232.7,53.4 L233.2,53.1 L233.7,52.7 L234.2,52.4 L234.7,52.0 L235.2,51.7 L235.7,51.3 L236.2,50.8 L236.7,50.4 L237.2,50.0 L237.7,49.5 L238.2,49.0 L238.7,48.6 L239.2,48.1 L239.7,47.6 L240.2,47.0 L240.7,46.5 L241.2,46.0 L241.7,45.5 L242.2,44.9 L242.7,44.4 L243.2,43.9 L243.7,43.4 L244.2,42.8 L244.7,42.3 L245.2,41.8 L245.7,41.4 L246.2,40.9 L246.7,40.5 L247.2,40.1 L247.7,39.7 L248.2,39.3 L248.7,39.0 L249.2,38.7 L249.7,38.4 L250.2,38.2 L250.7,38.0 L251.2,37.8 L251.7,37.7 L252.2,37.6 L252.7,37.6 L253.2,37.6 L253.7,37.6 L254.2,37.7 L254.7,37.8 L255.2,38.0 L255.7,38.2 L256.2,38.4 L256.7,38.7 L257.2,39.0 L257.7,39.3 L258.2,39.7 L258.7,40.1 L259.2,40.5 L259.7,40.9 L260.2,41.4 L260.7,41.8 L261.2,42.3 L261.7,42.8 L262.2,43.3 L262.7,43.9 L263.2,44.4 L263.7,44.9 L264.2,45.5 L264.7,46.0 L265.2,46.5 L265.7,47.0 L266.2,47.6 L266.7,48.1 L267.2,48.6 L267.7,49.0 L268.2,49.5 L268.7,50.0 L269.2,50.4 L269.7,50.8 L270.2,51.3 L270.7,51.6 L271.2,52.0 L271.7,52.4 L272.2,52.7 L272.7,53.0 L273.2,53.4 L273.7,53.6 L274.2,53.9 L274.7,54.2 L275.2,54.4 L275.7,54.6 L276.2,54.8 L276.7,55.0 L277.2,55.2 L277.7,55.4 L278.2,55.5 L278.7,55.7 L279.2,55.8 L279.7,55.9 L280.2,56.0 L280.7,56.1 L281.2,56.2 L281.7,56.3 L282.2,56.3 L282.7,56.4 L283.2,56.5 L283.7,56.5 L284.2,56.6 L284.7,56.6 L285.2,56.6 L285.7,56.7 L286.2,56.7" fill="none" stroke="#3a3a3a" stroke-width="1.2"/>
<path d="M219.3,56.7 L219.8,56.7 L220.3,56.7 L220.8,56.6 L221.3,56.6 L221.8,56.6 L222.3,56.6 L222.8,56.6 L223.3,56.5 L223.8,56.5 L224.3,56.5 L224.8,56.4 L225.3,56.4 L225.8,56.4 L226.3,56.3 L226.8,56.3 L227.3,56.2 L227.8,56.2 L228.3,56.1 L228.8,56.1 L229.3,56.0 L229.8,56.0 L230.3,55.9 L230.8,55.8 L231.3,55.8 L231.8,55.7 L232.3,55.6 L232.8,55.6 L233.3,55.5 L233.8,55.4 L234.3,55.3 L234.8,55.2 L235.3,55.1 L235.8,55.0 L236.3,54.9 L236.8,54.8 L237.3,54.7 L237.8,54.5 L238.3,54.4 L238.8,54.3 L239.3,54.1 L239.8,54.0 L240.3,53.9 L240.8,53.7 L241.3,53.6 L241.8,53.4 L242.3,53.2 L242.8,53.1 L243.3,52.9 L243.8,52.7 L244.3,52.5 L244.8,52.3 L245.3,52.2 L245.8,52.0 L246.3,51.8 L246.8,51.6 L247.3,51.3 L247.8,51.1 L248.3,50.9 L248.8,50.7 L249.3,50.5 L249.8,50.3 L250.3,50.0 L250.8,49.8 L251.3,49.6 L251.8,49.3 L252.3,49.1 L252.8,48.9 L253.3,48.6 L253.8,48.4 L254.3,48.2 L254.8,47.9 L255.3,47.7 L255.8,47.5 L256.3,47.2 L256.8,47.0 L257.3,46.8 L257.8,46.5 L258.3,46.3 L258.8,46.1 L259.3,45.9 L259.8,45.7 L260.3,45.5 L260.8,45.3 L261.3,45.1 L261.8,44.9 L262.3,44.7 L262.8,44.5 L263.3,44.4 L263.8,44.2 L264.3,44.1 L264.8,43.9 L265.3,43.8 L265.8,43.6 L266.3,43.5 L266.8,43.4 L267.3,43.3 L267.8,43.2 L268.3,43.2 L268.8,43.1 L269.3,43.0 L269.8,43.0 L270.3,42.9 L270.8,42.9 L271.3,42.9 L271.8,42.9 L272.3,42.9 L272.8,42.9 L273.3,43.0 L273.8,43.0 L274.3,43.0 L274.8,43.1 L275.3,43.2 L275.8,43.2 L276.3,43.3 L276.8,43.4 L277.3,43.5 L277.8,43.7 L278.3,43.8 L278.8,43.9 L279.3,44.1 L279.8,44.2 L280.3,44.4 L280.8,44.6 L281.3,44.7 L281.8,44.9 L282.3,45.1 L282.8,45.3 L283.3,45.5 L283.8,45.7 L284.3,45.9 L284.8,46.1 L285.3,46.3 L285.8,46.6 L286.3,46.8 L286.8,47.0 L287.3,47.3 L287.8,47.5 L288.3,47.7 L288.8,48.0 L289.3,48.2 L289.8,48.4 L290.3,48.7 L290.8,48.9 L291.3,49.1 L291.8,49.4 L292.3,49.6 L292.8,49.8 L293.3,50.1 L293.8,50.3 L294.3,50.5 L294.8,50.7 L295.3,50.9 L295.8,51.2 L296.3,51.4 L296.8,51.6 L297.3,51.8 L297.8,52.0 L298.3,52.2 L298.8,52.4 L299.3,52.6 L299.8,52.7 L300.3,52.9 L300.8,53.1 L301.3,53.3 L301.8,53.4 L302.3,53.6 L302.8,53.7 L303.3,53.9 L303.8,54.0 L304.3,54.2 L304.8,54.3 L305.3,54.4 L305.8,54.6 L306.3,54.7 L306.8,54.8 L307.3,54.9 L307.8,55.0 L308.3,55.1 L308.8,55.2 L309.3,55.3 L309.8,55.4 L310.3,55.5 L310.8,55.6 L311.3,55.6 L311.8,55.7 L312.3,55.8 L312.8,55.9 L313.3,55.9 L313.8,56.0 L314.3,56.0 L314.8,56.1 L315.3,56.1 L315.8,56.2 L316.3,56.2 L316.8,56.3 L317.3,56.3 L317.8,56.4 L318.3,56.4 L318.8,56.4 L319.3,56.5 L319.8,56.5 L320.3,56.5 L320.8,56.6 L321.3,56.6 L321.8,56.6 L322.3,56.6 L322.8,56.6 L323.3,56.7 L323.8,56.7" fill="none" stroke="#3a3a3a" stroke-width="1.2"/>
<line x1="218" y1="56.9" x2="350.5" y2="56.9" stroke="#666" stroke-width="0.8"/>
<path d="M205.6,56.9 L205.9,56.9 L206.2,56.9 L206.6,56.9 L207.0,56.9 L207.5,56.9 L207.9,56.9 L208.5,56.9 L209.0,56.9 L209.6,56.8 L210.2,56.8 L210.8,56.8 L211.3,56.8 L211.9,56.8 L212.5,56.8 L213.1,56.8 L213.6,56.8 L214.2,56.7 L214.7,56.7 L215.1,56.7 L215.6,56.7 L216.0,56.6 L216.3,56.6 L217.1,56.5 L217.7,56.4 L218.2,56.3 L218.5,56.2 L218.8,56.0 L219.1,55.8 L219.5,55.4 L219.9,55.0 L220.4,54.5 L220.9,54.0 L221.3,53.4 L221.8,52.7 L222.3,52.0 L222.8,51.3 L223.2,50.5 L223.7,49.5 L224.2,48.5 L224.7,47.4 L225.1,46.2 L225.6,45.0 L226.0,43.7 L226.4,42.5 L226.9,40.7 L227.4,38.7 L227.8,36.7 L228.2,34.8 L228.6,33.0 L229.1,31.0 L229.5,29.1 L230.0,27.3 L230.5,25.5 L230.9,24.2 L231.4,22.8 L231.8,21.4 L232.3,20.1 L232.8,18.9 L233.2,17.8 L233.7,16.8 L234.2,15.9 L234.6,15.2 L235.1,14.6 L235.5,14.0 L235.9,13.5 L236.4,13.0 L236.8,12.7 L237.3,12.4 L237.7,12.2 L238.2,12.1 L238.6,12.0 L239.1,12.0 L239.5,12.2 L240.0,12.5 L240.4,12.9 L240.8,13.3 L241.2,13.9 L241.7,14.5 L242.1,15.2 L242.5,16.0 L242.9,16.9 L243.3,18.0 L243.7,19.2 L244.1,20.4 L244.5,21.5 L245.0,22.5 L245.4,23.1 L245.8,23.7 L246.3,24.2 L246.7,24.7 L247.2,25.1 L247.7,25.6 L248.1,26.0 L248.6,26.4 L249.1,26.8 L249.5,27.2 L250.0,27.6 L250.5,28.0 L251.0,28.3 L251.4,28.6 L251.9,28.8 L252.3,29.0 L252.8,29.1 L253.3,29.2 L253.7,29.1 L254.1,29.0 L254.6,28.9 L255.0,28.8 L255.4,28.7 L255.8,28.5 L256.3,28.4 L256.7,28.3 L257.2,28.2 L257.7,28.2 L258.1,28.3 L258.5,28.4 L259.0,28.5 L259.4,28.7 L259.9,28.9 L260.4,29.1 L260.9,29.3 L261.5,29.6 L262.0,29.8 L262.4,30.0 L262.9,30.2 L263.4,30.4 L263.9,30.7 L264.4,30.9 L264.9,31.2 L265.4,31.4 L265.9,31.7 L266.4,31.9 L266.8,32.2 L267.3,32.5 L267.7,32.7 L268.2,33.0 L268.7,33.4 L269.2,33.7 L269.7,34.0 L270.1,34.3 L270.6,34.7 L271.0,35.0 L271.4,35.3 L271.8,35.6 L272.3,36.0 L272.7,36.3 L273.1,36.6 L273.5,37.0 L274.0,37.3 L274.5,37.6 L275.0,38.0 L275.4,38.2 L275.8,38.5 L276.2,38.7 L276.6,38.9 L277.1,39.1 L277.6,39.4 L278.0,39.6 L278.5,39.9 L279.0,40.1 L279.5,40.4 L280.0,40.7 L280.4,41.0 L280.9,41.2 L281.3,41.5 L281.7,41.8 L282.2,42.1 L282.6,42.4 L283.1,42.7 L283.5,43.0 L284.0,43.3 L284.5,43.6 L285.0,43.9 L285.5,44.2 L286.0,44.5 L286.4,44.7 L286.9,45.0 L287.3,45.2 L287.8,45.5 L288.3,45.7 L288.8,46.0 L289.3,46.2 L289.8,46.5 L290.3,46.7 L290.8,47.0 L291.3,47.2 L291.7,47.5 L292.2,47.7 L292.7,48.0 L293.2,48.2 L293.6,48.4 L294.1,48.7 L294.6,48.9 L295.1,49.2 L295.6,49.4 L296.1,49.7 L296.6,49.9 L297.0,50.1 L297.5,50.4 L298.0,50.6 L298.5,50.8 L299.0,51.1 L299.5,51.3 L300.0,51.5 L300.4,51.7 L300.9,51.9 L301.3,52.0 L301.7,52.2 L302.2,52.4 L302.6,52.6 L303.1,52.7 L303.5,52.9 L304.0,53.1 L304.5,53.2 L305.0,53.4 L305.5,53.5 L306.0,53.7 L306.6,53.8 L307.2,54.0 L307.8,54.1 L308.2,54.2 L308.6,54.3 L309.0,54.3 L309.5,54.4 L309.9,54.5 L310.4,54.6 L310.8,54.6 L311.3,54.7 L311.8,54.8 L312.2,54.8 L312.7,54.9 L313.2,54.9 L313.7,55.0 L314.2,55.1 L314.7,55.1 L315.2,55.2 L315.7,55.2 L316.3,55.3 L316.8,55.3 L317.3,55.4 L317.8,55.4 L318.4,55.5 L318.9,55.5 L319.5,55.6 L320.0,55.6 L320.4,55.6 L320.9,55.7 L321.3,55.7 L321.8,55.7 L322.3,55.8 L322.7,55.8 L323.2,55.8 L323.7,55.8 L324.1,55.9 L324.6,55.9 L325.1,55.9 L325.6,55.9 L326.1,56.0 L326.6,56.0 L327.0,56.0 L327.5,56.0 L328.0,56.1 L328.5,56.1 L329.0,56.1 L329.5,56.1 L330.0,56.1 L330.5,56.1 L331.0,56.2 L331.5,56.2 L332.0,56.2 L332.5,56.2 L333.0,56.2 L333.5,56.3 L334.0,56.3 L334.5,56.3 L335.0,56.3 L335.5,56.3 L336.0,56.3 L336.5,56.3 L337.0,56.4 L337.6,56.4 L338.1,56.4 L338.6,56.4 L339.2,56.4 L339.8,56.4 L340.3,56.4 L340.9,56.4 L341.5,56.5 L342.0,56.5 L342.6,56.5 L343.1,56.5 L343.7,56.5 L344.2,56.5 L344.8,56.5 L345.3,56.5 L345.8,56.5 L346.3,56.5 L346.8,56.5 L347.3,56.5 L347.7,56.6 L348.1,56.6 L348.5,56.6 L348.9,56.6 L349.3,56.6 L349.6,56.6 L350.0,56.6 L350.2,56.6 L350.5,56.6" fill="none" stroke="#38b038" stroke-width="1.1"/>
<path d="M205.6,56.8 L206.1,56.9 L206.6,57.0 L207.1,57.2 L207.6,57.3 L208.1,57.4 L208.6,57.5 L209.1,57.5 L209.6,57.4 L210.1,57.3 L210.6,57.1 L211.1,56.9 L211.6,56.8 L212.1,56.6 L212.6,56.5 L213.1,56.4 L213.6,56.4 L214.1,56.4 L214.6,56.4 L215.1,56.4 L215.6,56.4 L216.1,56.4 L216.6,56.4 L217.1,56.4 L217.6,56.5 L218.1,56.5 L218.6,56.5 L219.1,56.4 L219.6,56.1 L220.1,55.6 L220.6,55.1 L221.1,54.4 L221.6,53.7 L222.1,53.0 L222.6,52.2 L223.1,51.4 L223.6,50.6 L224.1,49.8 L224.6,48.8 L225.1,47.8 L225.6,46.7 L226.1,45.4 L226.6,44.1 L227.1,42.7 L227.6,41.2 L228.1,39.5 L228.6,37.7 L229.1,35.7 L229.6,33.6 L230.1,31.2 L230.6,28.8 L231.1,26.6 L231.6,24.8 L232.1,23.4 L232.6,22.0 L233.1,20.8 L233.6,19.7 L234.1,18.6 L234.6,17.5 L235.1,16.6 L235.6,15.7 L236.1,14.8 L236.6,14.1 L237.1,13.4 L237.6,12.8 L238.1,12.3 L238.6,11.9 L239.1,11.6 L239.6,11.3 L240.1,11.2 L240.6,11.5 L241.1,11.9 L241.6,12.5 L242.1,13.3 L242.6,14.4 L243.1,15.8 L243.6,17.5 L244.1,19.2 L244.6,20.7 L245.1,22.0 L245.6,23.0 L246.1,23.9 L246.6,24.7 L247.1,25.4 L247.6,26.0 L248.1,26.4 L248.6,26.9 L249.1,27.3 L249.6,27.7 L250.1,28.0 L250.6,28.3 L251.1,28.5 L251.6,28.7 L252.1,28.7 L252.6,28.6 L253.1,28.4 L253.6,28.2 L254.1,27.9 L254.6,27.8 L255.1,27.8 L255.6,27.9 L256.1,28.0 L256.6,28.2 L257.1,28.5 L257.6,28.8 L258.1,29.0 L258.6,29.3 L259.1,29.5 L259.6,29.7 L260.1,29.8 L260.6,30.0 L261.1,30.2 L261.6,30.3 L262.1,30.5 L262.6,30.7 L263.1,30.8 L263.6,30.9 L264.1,31.1 L264.6,31.2 L265.1,31.4 L265.6,31.6 L266.1,31.9 L266.6,32.2 L267.1,32.4 L267.6,32.7 L268.1,33.0 L268.6,33.3 L269.1,33.5 L269.6,33.8 L270.1,34.0 L270.6,34.2 L271.1,34.4 L271.6,34.7 L272.1,34.9 L272.6,35.2 L273.1,35.6 L273.6,35.9 L274.1,36.2 L274.6,36.5 L275.1,36.9 L275.6,37.2 L276.1,37.6 L276.6,38.0 L277.1,38.4 L277.6,38.9 L278.1,39.3 L278.6,39.7 L279.1,40.0 L279.6,40.3 L280.1,40.5 L280.6,40.6 L281.1,40.7 L281.6,40.9 L282.1,41.0 L282.6,41.3 L283.1,41.6 L283.6,41.9 L284.1,42.3 L284.6,42.7 L285.1,43.1 L285.6,43.4 L286.1,43.7 L286.6,44.0 L287.1,44.3 L287.6,44.6 L288.1,44.9 L288.6,45.2 L289.1,45.4 L289.6,45.7 L290.1,45.9 L290.6,46.1 L291.1,46.2 L291.6,46.4 L292.1,46.6 L292.6,46.8 L293.1,47.0 L293.6,47.3 L294.1,47.7 L294.6,48.1 L295.1,48.5 L295.6,48.9 L296.1,49.3 L296.6,49.7 L297.1,49.9 L297.6,50.2 L298.1,50.4 L298.6,50.6 L299.1,50.8 L299.6,51.0 L300.1,51.2 L300.6,51.5 L301.1,51.8 L301.6,52.2 L302.1,52.5 L302.6,52.9 L303.1,53.2 L303.6,53.4 L304.1,53.6 L304.6,53.6 L305.1,53.7 L305.6,53.7 L306.1,53.7 L306.6,53.7 L307.1,53.8 L307.6,53.9 L308.1,54.0 L308.6,54.2 L309.1,54.3 L309.6,54.5 L310.1,54.6 L310.6,54.7 L311.1,54.7 L311.6,54.8 L312.1,54.8 L312.6,54.8 L313.1,54.8 L313.6,54.8 L314.1,54.8 L314.6,54.9 L315.1,55.0 L315.6,55.1 L316.1,55.3 L316.6,55.4 L317.1,55.5 L317.6,55.5 L318.1,55.5 L318.6,55.5 L319.1,55.5 L319.6,55.5 L320.1,55.5 L320.6,55.4 L321.1,55.4 L321.6,55.4 L322.1,55.3 L322.6,55.2 L323.1,55.2 L323.6,55.2 L324.1,55.2 L324.6,55.3 L325.1,55.4 L325.6,55.6 L326.1,55.9 L326.6,56.2 L327.1,56.5 L327.6,56.7 L328.1,56.9 L328.6,56.9 L329.1,57.0 L329.6,57.0 L330.1,57.0 L330.6,57.0 L331.1,57.0 L331.6,57.0 L332.1,57.0 L332.6,56.9 L333.1,56.9 L333.6,56.9 L334.1,56.8 L334.6,56.8 L335.1,56.8 L335.6,56.8 L336.1,56.8 L336.6,56.7 L337.1,56.7 L337.6,56.7 L338.1,56.7 L338.6,56.6 L339.1,56.5 L339.6,56.4 L340.1,56.3 L340.6,56.2 L341.1,56.1 L341.6,56.0 L342.1,55.9 L342.6,55.8 L343.1,55.8 L343.6,55.8 L344.1,55.8 L344.6,55.8 L345.1,55.8 L345.6,55.8 L346.1,55.8 L346.6,55.8 L347.1,55.9 L347.6,55.9 L348.1,55.9 L348.6,56.0 L349.1,56.0 L349.6,55.9 L350.1,55.8" fill="none" stroke="#2233ee" stroke-width="0.7"/>
<path d="M214.7,113.3 L215.2,113.2 L215.7,113.2 L216.2,113.1 L216.7,113.0 L217.2,112.9 L217.7,112.7 L218.2,112.5 L218.7,112.3 L219.2,112.0 L219.7,111.7 L220.2,111.4 L220.7,110.9 L221.2,110.4 L221.7,109.9 L222.2,109.2 L222.7,108.5 L223.2,107.7 L223.7,106.8 L224.2,105.8 L224.7,104.6 L225.2,103.4 L225.7,102.1 L226.2,100.7 L226.7,99.2 L227.2,97.5 L227.7,95.9 L228.2,94.1 L228.7,92.3 L229.2,90.5 L229.7,88.6 L230.2,86.7 L230.7,84.9 L231.2,83.1 L231.7,81.4 L232.2,79.8 L232.7,78.3 L233.2,77.0 L233.7,75.8 L234.2,74.8 L234.7,74.0 L235.2,73.5 L235.7,73.1 L236.2,73.0 L236.7,73.1 L237.2,73.5 L237.7,74.0 L238.2,74.8 L238.7,75.8 L239.2,77.0 L239.7,78.3 L240.2,79.8 L240.7,81.4 L241.2,83.1 L241.7,84.8 L242.2,86.7 L242.7,88.5 L243.2,90.4 L243.7,92.2 L244.2,94.0 L244.7,95.8 L245.2,97.5 L245.7,99.1 L246.2,100.6 L246.7,102.0 L247.2,103.4 L247.7,104.6 L248.2,105.7 L248.7,106.7 L249.2,107.7 L249.7,108.5 L250.2,109.2 L250.7,109.9 L251.2,110.4 L251.7,110.9 L252.2,111.3 L252.7,111.7 L253.2,112.0 L253.7,112.3 L254.2,112.5 L254.7,112.7 L255.2,112.9 L255.7,113.0 L256.2,113.1 L256.7,113.2 L257.2,113.2 L257.7,113.3" fill="none" stroke="#3a3a3a" stroke-width="1.2"/>
<path d="M224.1,113.3 L224.6,113.3 L225.1,113.2 L225.6,113.2 L226.1,113.1 L226.6,113.1 L227.1,113.0 L227.6,112.9 L228.1,112.8 L228.6,112.7 L229.1,112.6 L229.6,112.5 L230.1,112.3 L230.6,112.2 L231.1,112.0 L231.6,111.8 L232.1,111.6 L232.6,111.4 L233.1,111.1 L233.6,110.8 L234.1,110.5 L234.6,110.2 L235.1,109.9 L235.6,109.5 L236.1,109.1 L236.6,108.7 L237.1,108.2 L237.6,107.8 L238.1,107.3 L238.6,106.8 L239.1,106.3 L239.6,105.7 L240.1,105.2 L240.6,104.6 L241.1,104.0 L241.6,103.4 L242.1,102.9 L242.6,102.3 L243.1,101.7 L243.6,101.1 L244.1,100.6 L244.6,100.0 L245.1,99.5 L245.6,99.0 L246.1,98.6 L246.6,98.1 L247.1,97.7 L247.6,97.4 L248.1,97.1 L248.6,96.8 L249.1,96.6 L249.6,96.4 L250.1,96.3 L250.6,96.2 L251.1,96.2 L251.6,96.2 L252.1,96.3 L252.6,96.5 L253.1,96.7 L253.6,96.9 L254.1,97.2 L254.6,97.5 L255.1,97.9 L255.6,98.3 L256.1,98.8 L256.6,99.3 L257.1,99.8 L257.6,100.3 L258.1,100.8 L258.6,101.4 L259.1,102.0 L259.6,102.6 L260.1,103.1 L260.6,103.7 L261.1,104.3 L261.6,104.9 L262.1,105.4 L262.6,106.0 L263.1,106.5 L263.6,107.0 L264.1,107.5 L264.6,108.0 L265.1,108.4 L265.6,108.9 L266.1,109.3 L266.6,109.7 L267.1,110.0 L267.6,110.4 L268.1,110.7 L268.6,111.0 L269.1,111.2 L269.6,111.5 L270.1,111.7 L270.6,111.9 L271.1,112.1 L271.6,112.2 L272.1,112.4 L272.6,112.5 L273.1,112.7 L273.6,112.8 L274.1,112.9 L274.6,112.9 L275.1,113.0 L275.6,113.1 L276.1,113.1 L276.6,113.2 L277.1,113.2 L277.6,113.3" fill="none" stroke="#3a3a3a" stroke-width="1.2"/>
<path d="M226.6,113.3 L227.1,113.3 L227.6,113.3 L228.1,113.2 L228.6,113.2 L229.1,113.2 L229.6,113.2 L230.1,113.1 L230.6,113.1 L231.1,113.1 L231.6,113.0 L232.1,113.0 L232.6,113.0 L233.1,112.9 L233.6,112.9 L234.1,112.8 L234.6,112.8 L235.1,112.7 L235.6,112.7 L236.1,112.6 L236.6,112.6 L237.1,112.5 L237.6,112.5 L238.1,112.4 L238.6,112.3 L239.1,112.2 L239.6,112.2 L240.1,112.1 L240.6,112.0 L241.1,111.9 L241.6,111.8 L242.1,111.7 L242.6,111.6 L243.1,111.5 L243.6,111.4 L244.1,111.3 L244.6,111.1 L245.1,111.0 L245.6,110.9 L246.1,110.8 L246.6,110.6 L247.1,110.5 L247.6,110.4 L248.1,110.2 L248.6,110.1 L249.1,109.9 L249.6,109.8 L250.1,109.6 L250.6,109.5 L251.1,109.3 L251.6,109.1 L252.1,109.0 L252.6,108.8 L253.1,108.6 L253.6,108.5 L254.1,108.3 L254.6,108.1 L255.1,108.0 L255.6,107.8 L256.1,107.6 L256.6,107.5 L257.1,107.3 L257.6,107.1 L258.1,107.0 L258.6,106.8 L259.1,106.7 L259.6,106.5 L260.1,106.3 L260.6,106.2 L261.1,106.1 L261.6,105.9 L262.1,105.8 L262.6,105.7 L263.1,105.5 L263.6,105.4 L264.1,105.3 L264.6,105.2 L265.1,105.1 L265.6,105.0 L266.1,105.0 L266.6,104.9 L267.1,104.8 L267.6,104.8 L268.1,104.7 L268.6,104.7 L269.1,104.6 L269.6,104.6 L270.1,104.6 L270.6,104.6 L271.1,104.6 L271.6,104.6 L272.1,104.6 L272.6,104.7 L273.1,104.7 L273.6,104.7 L274.1,104.8 L274.6,104.9 L275.1,104.9 L275.6,105.0 L276.1,105.1 L276.6,105.2 L277.1,105.3 L277.6,105.4 L278.1,105.5 L278.6,105.6 L279.1,105.8 L279.6,105.9 L280.1,106.0 L280.6,106.2 L281.1,106.3 L281.6,106.4 L282.1,106.6 L282.6,106.8 L283.1,106.9 L283.6,107.1 L284.1,107.2 L284.6,107.4 L285.1,107.6 L285.6,107.7 L286.1,107.9 L286.6,108.1 L287.1,108.2 L287.6,108.4 L288.1,108.6 L288.6,108.7 L289.1,108.9 L289.6,109.1 L290.1,109.2 L290.6,109.4 L291.1,109.6 L291.6,109.7 L292.1,109.9 L292.6,110.0 L293.1,110.2 L293.6,110.3 L294.1,110.5 L294.6,110.6 L295.1,110.7 L295.6,110.9 L296.1,111.0 L296.6,111.1 L297.1,111.2 L297.6,111.3 L298.1,111.4 L298.6,111.6 L299.1,111.7 L299.6,111.8 L300.1,111.9 L300.6,112.0 L301.1,112.0 L301.6,112.1 L302.1,112.2 L302.6,112.3 L303.1,112.4 L303.6,112.4 L304.1,112.5 L304.6,112.6 L305.1,112.6 L305.6,112.7 L306.1,112.7 L306.6,112.8 L307.1,112.8 L307.6,112.9 L308.1,112.9 L308.6,113.0 L309.1,113.0 L309.6,113.0 L310.1,113.1 L310.6,113.1 L311.1,113.1 L311.6,113.2 L312.1,113.2 L312.6,113.2 L313.1,113.2 L313.6,113.3 L314.1,113.3 L314.6,113.3" fill="none" stroke="#3a3a3a" stroke-width="1.2"/>
<line x1="218" y1="113.5" x2="350.5" y2="113.5" stroke="#666" stroke-width="0.8"/>
<path d="M205.6,113.4 L205.9,113.4 L206.2,113.4 L206.6,113.4 L207.0,113.4 L207.5,113.4 L207.9,113.4 L208.5,113.4 L209.0,113.4 L209.6,113.4 L210.2,113.4 L210.8,113.4 L211.3,113.4 L211.9,113.4 L212.5,113.4 L213.1,113.3 L213.6,113.3 L214.2,113.3 L214.7,113.3 L215.1,113.3 L215.6,113.3 L216.0,113.2 L216.3,113.2 L217.2,113.1 L217.8,113.0 L218.2,112.9 L218.5,112.8 L218.8,112.6 L219.1,112.4 L219.5,112.0 L220.0,111.6 L220.4,111.1 L220.8,110.5 L221.3,109.9 L221.7,109.2 L222.2,108.4 L222.7,107.5 L223.1,106.6 L223.6,105.7 L224.1,104.7 L224.5,103.7 L225.0,102.6 L225.5,101.4 L226.0,100.2 L226.4,99.0 L226.9,97.5 L227.4,95.8 L227.9,94.1 L228.4,92.4 L228.8,90.7 L229.2,89.0 L229.6,87.5 L230.1,85.1 L230.5,83.0 L230.9,81.0 L231.4,78.9 L231.8,77.4 L232.2,76.0 L232.6,74.5 L233.1,73.0 L233.5,71.7 L234.0,70.5 L234.4,69.6 L234.9,68.6 L235.3,67.8 L235.8,67.0 L236.3,66.4 L236.7,65.9 L237.1,65.7 L237.6,65.8 L238.1,66.4 L238.6,67.2 L239.0,68.1 L239.5,69.0 L239.9,69.7 L240.3,70.5 L240.7,71.4 L241.1,72.2 L241.6,73.1 L242.0,74.0 L242.4,74.8 L242.8,75.5 L243.2,76.3 L243.6,77.1 L244.1,77.8 L244.5,78.7 L245.0,79.5 L245.4,80.3 L245.8,81.1 L246.2,81.9 L246.6,82.7 L247.0,83.5 L247.5,84.3 L248.0,85.1 L248.6,85.9 L249.0,86.4 L249.4,86.8 L249.8,87.2 L250.3,87.6 L250.7,88.0 L251.2,88.5 L251.7,88.9 L252.2,89.3 L252.7,89.7 L253.3,90.1 L253.8,90.5 L254.4,91.0 L255.0,91.4 L255.4,91.7 L255.8,92.0 L256.3,92.4 L256.7,92.7 L257.2,93.0 L257.6,93.4 L258.1,93.7 L258.5,94.0 L259.0,94.4 L259.5,94.7 L260.0,95.1 L260.5,95.4 L261.0,95.7 L261.5,96.1 L262.0,96.4 L262.5,96.7 L263.1,97.1 L263.6,97.4 L264.1,97.7 L264.6,98.0 L265.0,98.2 L265.5,98.5 L266.0,98.8 L266.5,99.0 L267.0,99.3 L267.5,99.6 L268.0,99.8 L268.5,100.1 L269.0,100.3 L269.5,100.6 L270.0,100.8 L270.5,101.1 L271.0,101.3 L271.5,101.6 L272.0,101.8 L272.5,102.0 L273.0,102.3 L273.5,102.5 L274.0,102.7 L274.5,103.0 L275.0,103.2 L275.5,103.4 L276.0,103.7 L276.5,103.9 L277.0,104.1 L277.5,104.3 L278.0,104.6 L278.5,104.8 L278.9,105.0 L279.4,105.2 L279.9,105.4 L280.4,105.6 L280.9,105.8 L281.3,106.0 L281.8,106.2 L282.3,106.4 L282.7,106.6 L283.2,106.8 L283.7,107.0 L284.1,107.2 L284.6,107.3 L285.0,107.5 L285.5,107.7 L286.0,107.9 L286.4,108.0 L286.9,108.2 L287.3,108.3 L287.7,108.5 L288.1,108.6 L288.5,108.7 L288.9,108.9 L289.3,109.0 L289.8,109.1 L290.2,109.2 L290.7,109.4 L291.2,109.5 L291.7,109.6 L292.3,109.7 L292.9,109.9 L293.6,110.0 L294.0,110.1 L294.4,110.2 L294.8,110.2 L295.2,110.3 L295.6,110.4 L296.1,110.5 L296.5,110.5 L297.0,110.6 L297.4,110.7 L297.9,110.8 L298.4,110.9 L298.8,111.0 L299.3,111.0 L299.8,111.1 L300.3,111.2 L300.8,111.3 L301.3,111.4 L301.9,111.4 L302.4,111.5 L302.9,111.6 L303.4,111.7 L304.0,111.7 L304.5,111.8 L305.1,111.9 L305.6,111.9 L306.1,112.0 L306.7,112.1 L307.2,112.1 L307.8,112.2 L308.3,112.2 L308.9,112.3 L309.4,112.4 L310.0,112.4 L310.4,112.4 L310.9,112.5 L311.3,112.5 L311.8,112.5 L312.3,112.6 L312.7,112.6 L313.2,112.6 L313.7,112.7 L314.1,112.7 L314.6,112.7 L315.1,112.7 L315.6,112.7 L316.1,112.8 L316.5,112.8 L317.0,112.8 L317.5,112.8 L318.0,112.8 L318.5,112.9 L319.0,112.9 L319.5,112.9 L320.0,112.9 L320.5,112.9 L321.0,112.9 L321.5,112.9 L322.0,112.9 L322.5,113.0 L323.0,113.0 L323.5,113.0 L324.0,113.0 L324.5,113.0 L325.0,113.0 L325.5,113.0 L326.0,113.0 L326.5,113.0 L327.0,113.0 L327.5,113.0 L328.0,113.1 L328.5,113.1 L329.0,113.1 L329.5,113.1 L330.0,113.1 L330.5,113.1 L331.0,113.1 L331.5,113.1 L332.0,113.1 L332.5,113.1 L333.1,113.2 L333.6,113.2 L334.2,113.2 L334.7,113.2 L335.3,113.2 L335.9,113.2 L336.4,113.2 L337.0,113.2 L337.6,113.2 L338.1,113.2 L338.7,113.2 L339.3,113.2 L339.8,113.2 L340.4,113.2 L340.9,113.2 L341.5,113.2 L342.0,113.2 L342.6,113.3 L343.1,113.3 L343.6,113.3 L344.2,113.3 L344.7,113.3 L345.2,113.3 L345.7,113.3 L346.1,113.3 L346.6,113.3 L347.0,113.3 L347.5,113.3 L347.9,113.3 L348.3,113.3 L348.6,113.3 L349.0,113.3 L349.3,113.3 L349.7,113.3 L350.0,113.3 L350.2,113.3 L350.5,113.3" fill="none" stroke="#38b038" stroke-width="1.1"/>
<path d="M205.6,113.5 L206.1,113.5 L206.6,113.6 L207.1,113.6 L207.6,113.6 L208.1,113.6 L208.6,113.6 L209.1,113.5 L209.6,113.4 L210.1,113.3 L210.6,113.1 L211.1,112.9 L211.6,112.7 L212.1,112.6 L212.6,112.5 L213.1,112.4 L213.6,112.3 L214.1,112.2 L214.6,112.1 L215.1,112.1 L215.6,112.1 L216.1,112.0 L216.6,112.0 L217.1,112.1 L217.6,112.1 L218.1,112.1 L218.6,112.0 L219.1,111.7 L219.6,111.2 L220.1,110.7 L220.6,110.1 L221.1,109.3 L221.6,108.5 L222.1,107.5 L222.6,106.5 L223.1,105.5 L223.6,104.5 L224.1,103.5 L224.6,102.4 L225.1,101.2 L225.6,99.9 L226.1,98.4 L226.6,96.6 L227.1,94.4 L227.6,91.9 L228.1,89.2 L228.6,86.5 L229.1,83.8 L229.6,81.3 L230.1,79.1 L230.6,77.3 L231.1,75.8 L231.6,74.6 L232.1,73.6 L232.6,72.7 L233.1,71.9 L233.6,71.1 L234.1,70.5 L234.6,70.0 L235.1,69.5 L235.6,69.2 L236.1,68.9 L236.6,68.6 L237.1,68.4 L237.6,68.3 L238.1,68.3 L238.6,68.4 L239.1,68.5 L239.6,68.7 L240.1,68.9 L240.6,69.2 L241.1,69.4 L241.6,69.8 L242.1,70.4 L242.6,71.3 L243.1,72.5 L243.6,73.9 L244.1,75.3 L244.6,76.6 L245.1,77.9 L245.6,79.2 L246.1,80.6 L246.6,81.9 L247.1,83.0 L247.6,84.0 L248.1,84.8 L248.6,85.4 L249.1,85.9 L249.6,86.4 L250.1,86.8 L250.6,87.2 L251.1,87.6 L251.6,88.1 L252.1,88.8 L252.6,89.4 L253.1,90.1 L253.6,90.7 L254.1,91.3 L254.6,91.7 L255.1,92.0 L255.6,92.1 L256.1,92.2 L256.6,92.2 L257.1,92.2 L257.6,92.4 L258.1,92.6 L258.6,93.1 L259.1,93.6 L259.6,94.3 L260.1,95.0 L260.6,95.6 L261.1,96.2 L261.6,96.6 L262.1,96.8 L262.6,96.9 L263.1,97.0 L263.6,97.0 L264.1,97.0 L264.6,97.0 L265.1,97.2 L265.6,97.6 L266.1,98.0 L266.6,98.5 L267.1,99.0 L267.6,99.5 L268.1,99.9 L268.6,100.3 L269.1,100.5 L269.6,100.7 L270.1,100.8 L270.6,100.9 L271.1,101.0 L271.6,101.1 L272.1,101.3 L272.6,101.5 L273.1,101.7 L273.6,102.0 L274.1,102.2 L274.6,102.5 L275.1,102.8 L275.6,103.1 L276.1,103.4 L276.6,103.8 L277.1,104.2 L277.6,104.6 L278.1,105.0 L278.6,105.3 L279.1,105.6 L279.6,105.7 L280.1,105.7 L280.6,105.6 L281.1,105.5 L281.6,105.4 L282.1,105.4 L282.6,105.4 L283.1,105.5 L283.6,105.7 L284.1,105.8 L284.6,106.0 L285.1,106.3 L285.6,106.5 L286.1,106.8 L286.6,107.2 L287.1,107.6 L287.6,108.1 L288.1,108.6 L288.6,109.0 L289.1,109.4 L289.6,109.7 L290.1,109.9 L290.6,109.9 L291.1,109.9 L291.6,109.9 L292.1,109.8 L292.6,109.8 L293.1,109.7 L293.6,109.7 L294.1,109.6 L294.6,109.5 L295.1,109.4 L295.6,109.4 L296.1,109.4 L296.6,109.5 L297.1,109.8 L297.6,110.1 L298.1,110.5 L298.6,110.9 L299.1,111.3 L299.6,111.7 L300.1,111.9 L300.6,112.1 L301.1,112.2 L301.6,112.3 L302.1,112.4 L302.6,112.4 L303.1,112.4 L303.6,112.4 L304.1,112.3 L304.6,112.1 L305.1,111.8 L305.6,111.6 L306.1,111.4 L306.6,111.2 L307.1,111.1 L307.6,111.2 L308.1,111.3 L308.6,111.5 L309.1,111.7 L309.6,111.9 L310.1,112.0 L310.6,112.1 L311.1,112.1 L311.6,112.1 L312.1,112.0 L312.6,111.9 L313.1,111.8 L313.6,111.8 L314.1,111.7 L314.6,111.8 L315.1,111.8 L315.6,111.9 L316.1,112.0 L316.6,112.1 L317.1,112.2 L317.6,112.2 L318.1,112.4 L318.6,112.5 L319.1,112.6 L319.6,112.8 L320.1,112.9 L320.6,112.9 L321.1,113.0 L321.6,112.9 L322.1,112.8 L322.6,112.6 L323.1,112.4 L323.6,112.3 L324.1,112.2 L324.6,112.1 L325.1,112.2 L325.6,112.4 L326.1,112.6 L326.6,112.8 L327.1,113.0 L327.6,113.2 L328.1,113.3 L328.6,113.2 L329.1,113.0 L329.6,112.8 L330.1,112.6 L330.6,112.3 L331.1,112.2 L331.6,112.0 L332.1,112.0 L332.6,112.0 L333.1,112.0 L333.6,112.1 L334.1,112.1 L334.6,112.2 L335.1,112.3 L335.6,112.5 L336.1,112.7 L336.6,112.9 L337.1,113.2 L337.6,113.4 L338.1,113.6 L338.6,113.7 L339.1,113.6 L339.6,113.5 L340.1,113.4 L340.6,113.2 L341.1,113.1 L341.6,112.9 L342.1,112.8 L342.6,112.8 L343.1,112.8 L343.6,112.8 L344.1,112.8 L344.6,112.8 L345.1,112.9 L345.6,112.9 L346.1,112.9 L346.6,113.0 L347.1,113.1 L347.6,113.1 L348.1,113.2 L348.6,113.3 L349.1,113.3 L349.6,113.3 L350.1,113.3" fill="none" stroke="#2233ee" stroke-width="0.7"/>
<path d="M219.5,167.4 L220.0,167.3 L220.5,167.3 L221.0,167.2 L221.5,167.0 L222.0,166.9 L222.5,166.7 L223.0,166.4 L223.5,166.1 L224.0,165.8 L224.5,165.4 L225.0,164.9 L225.5,164.3 L226.0,163.6 L226.5,162.9 L227.0,162.0 L227.5,161.0 L228.0,159.9 L228.5,158.7 L229.0,157.4 L229.5,156.0 L230.0,154.5 L230.5,153.0 L231.0,151.3 L231.5,149.6 L232.0,147.9 L232.5,146.2 L233.0,144.5 L233.5,142.8 L234.0,141.3 L234.5,139.9 L235.0,138.6 L235.5,137.5 L236.0,136.6 L236.5,135.9 L237.0,135.4 L237.5,135.2 L238.0,135.3 L238.5,135.5 L239.0,136.1 L239.5,136.8 L240.0,137.8 L240.5,138.9 L241.0,140.2 L241.5,141.7 L242.0,143.3 L242.5,144.9 L243.0,146.6 L243.5,148.4 L244.0,150.1 L244.5,151.8 L245.0,153.4 L245.5,155.0 L246.0,156.4 L246.5,157.8 L247.0,159.1 L247.5,160.2 L248.0,161.3 L248.5,162.2 L249.0,163.1 L249.5,163.8 L250.0,164.5 L250.5,165.0 L251.0,165.5 L251.5,165.9 L252.0,166.2 L252.5,166.5 L253.0,166.7 L253.5,166.9 L254.0,167.1 L254.5,167.2 L255.0,167.3 L255.5,167.4" fill="none" stroke="#3a3a3a" stroke-width="1.2"/>
<path d="M222.2,167.4 L222.7,167.4 L223.2,167.3 L223.7,167.3 L224.2,167.2 L224.7,167.2 L225.2,167.1 L225.7,167.0 L226.2,166.9 L226.7,166.8 L227.2,166.7 L227.7,166.5 L228.2,166.4 L228.7,166.2 L229.2,166.0 L229.7,165.8 L230.2,165.6 L230.7,165.3 L231.2,165.1 L231.7,164.8 L232.2,164.4 L232.7,164.1 L233.2,163.7 L233.7,163.3 L234.2,162.8 L234.7,162.4 L235.2,161.9 L235.7,161.4 L236.2,160.8 L236.7,160.2 L237.2,159.6 L237.7,159.0 L238.2,158.4 L238.7,157.7 L239.2,157.1 L239.7,156.4 L240.2,155.7 L240.7,155.0 L241.2,154.3 L241.7,153.6 L242.2,153.0 L242.7,152.3 L243.2,151.7 L243.7,151.0 L244.2,150.5 L244.7,149.9 L245.2,149.4 L245.7,148.9 L246.2,148.5 L246.7,148.1 L247.2,147.8 L247.7,147.5 L248.2,147.3 L248.7,147.2 L249.2,147.1 L249.7,147.1 L250.2,147.1 L250.7,147.3 L251.2,147.4 L251.7,147.7 L252.2,147.9 L252.7,148.3 L253.2,148.7 L253.7,149.1 L254.2,149.6 L254.7,150.2 L255.2,150.7 L255.7,151.3 L256.2,152.0 L256.7,152.6 L257.2,153.3 L257.7,153.9 L258.2,154.6 L258.7,155.3 L259.2,156.0 L259.7,156.7 L260.2,157.4 L260.7,158.0 L261.2,158.7 L261.7,159.3 L262.2,159.9 L262.7,160.5 L263.2,161.1 L263.7,161.6 L264.2,162.1 L264.7,162.6 L265.2,163.0 L265.7,163.5 L266.2,163.9 L266.7,164.2 L267.2,164.6 L267.7,164.9 L268.2,165.2 L268.7,165.5 L269.2,165.7 L269.7,165.9 L270.2,166.1 L270.7,166.3 L271.2,166.5 L271.7,166.6 L272.2,166.7 L272.7,166.8 L273.2,166.9 L273.7,167.0 L274.2,167.1 L274.7,167.2 L275.2,167.2 L275.7,167.3 L276.2,167.3 L276.7,167.4" fill="none" stroke="#3a3a3a" stroke-width="1.2"/>
<path d="M227.9,167.4 L228.4,167.4 L228.9,167.4 L229.4,167.3 L229.9,167.3 L230.4,167.3 L230.9,167.3 L231.4,167.2 L231.9,167.2 L232.4,167.2 L232.9,167.2 L233.4,167.1 L233.9,167.1 L234.4,167.0 L234.9,167.0 L235.4,167.0 L235.9,166.9 L236.4,166.9 L236.9,166.8 L237.4,166.7 L237.9,166.7 L238.4,166.6 L238.9,166.6 L239.4,166.5 L239.9,166.4 L240.4,166.3 L240.9,166.3 L241.4,166.2 L241.9,166.1 L242.4,166.0 L242.9,165.9 L243.4,165.8 L243.9,165.7 L244.4,165.6 L244.9,165.5 L245.4,165.4 L245.9,165.3 L246.4,165.2 L246.9,165.0 L247.4,164.9 L247.9,164.8 L248.4,164.6 L248.9,164.5 L249.4,164.4 L249.9,164.2 L250.4,164.1 L250.9,163.9 L251.4,163.8 L251.9,163.6 L252.4,163.5 L252.9,163.3 L253.4,163.2 L253.9,163.0 L254.4,162.8 L254.9,162.7 L255.4,162.5 L255.9,162.3 L256.4,162.2 L256.9,162.0 L257.4,161.9 L257.9,161.7 L258.4,161.5 L258.9,161.4 L259.4,161.2 L259.9,161.1 L260.4,160.9 L260.9,160.8 L261.4,160.6 L261.9,160.5 L262.4,160.4 L262.9,160.2 L263.4,160.1 L263.9,160.0 L264.4,159.9 L264.9,159.8 L265.4,159.7 L265.9,159.6 L266.4,159.5 L266.9,159.4 L267.4,159.3 L267.9,159.2 L268.4,159.2 L268.9,159.1 L269.4,159.1 L269.9,159.1 L270.4,159.0 L270.9,159.0 L271.4,159.0 L271.9,159.0 L272.4,159.0 L272.9,159.0 L273.4,159.0 L273.9,159.1 L274.4,159.1 L274.9,159.2 L275.4,159.2 L275.9,159.3 L276.4,159.4 L276.9,159.4 L277.4,159.5 L277.9,159.6 L278.4,159.7 L278.9,159.8 L279.4,159.9 L279.9,160.0 L280.4,160.2 L280.9,160.3 L281.4,160.4 L281.9,160.6 L282.4,160.7 L282.9,160.8 L283.4,161.0 L283.9,161.1 L284.4,161.3 L284.9,161.5 L285.4,161.6 L285.9,161.8 L286.4,161.9 L286.9,162.1 L287.4,162.3 L287.9,162.4 L288.4,162.6 L288.9,162.7 L289.4,162.9 L289.9,163.1 L290.4,163.2 L290.9,163.4 L291.4,163.5 L291.9,163.7 L292.4,163.9 L292.9,164.0 L293.4,164.1 L293.9,164.3 L294.4,164.4 L294.9,164.6 L295.4,164.7 L295.9,164.8 L296.4,165.0 L296.9,165.1 L297.4,165.2 L297.9,165.3 L298.4,165.4 L298.9,165.6 L299.4,165.7 L299.9,165.8 L300.4,165.9 L300.9,166.0 L301.4,166.0 L301.9,166.1 L302.4,166.2 L302.9,166.3 L303.4,166.4 L303.9,166.5 L304.4,166.5 L304.9,166.6 L305.4,166.7 L305.9,166.7 L306.4,166.8 L306.9,166.8 L307.4,166.9 L307.9,166.9 L308.4,167.0 L308.9,167.0 L309.4,167.1 L309.9,167.1 L310.4,167.1 L310.9,167.2 L311.4,167.2 L311.9,167.2 L312.4,167.3 L312.9,167.3 L313.4,167.3 L313.9,167.3 L314.4,167.4 L314.9,167.4 L315.4,167.4" fill="none" stroke="#3a3a3a" stroke-width="1.2"/>
<line x1="218" y1="167.6" x2="350.5" y2="167.6" stroke="#666" stroke-width="0.8"/>
<path d="M205.6,167.7 L206.1,167.7 L206.6,167.7 L207.1,167.7 L207.6,167.7 L208.1,167.6 L208.6,167.6 L209.1,167.6 L209.6,167.7 L210.1,167.7 L210.6,167.8 L211.1,167.9 L211.6,168.0 L212.1,168.0 L212.6,167.9 L213.1,167.8 L213.6,167.6 L214.1,167.4 L214.6,167.1 L215.1,166.9 L215.6,166.7 L216.1,166.5 L216.6,166.5 L217.1,166.4 L217.6,166.4 L218.1,166.4 L218.6,166.4 L219.1,166.4 L219.6,166.4 L220.1,166.3 L220.6,166.1 L221.1,164.8 L221.6,163.8 L222.1,162.7 L222.6,161.5 L223.1,160.3 L223.6,159.2 L224.1,158.2 L224.6,157.1 L225.1,156.1 L225.6,155.1 L226.1,154.0 L226.6,153.0 L227.1,152.1 L227.6,151.2 L228.1,150.3 L228.6,149.4 L229.1,148.4 L229.6,147.3 L230.1,145.9 L230.6,144.3 L231.1,142.4 L231.6,140.4 L232.1,138.2 L232.6,136.0 L233.1,134.0 L233.6,132.3 L234.1,130.9 L234.6,129.6 L235.1,128.4 L235.6,127.4 L236.1,126.6 L236.6,126.0 L237.1,125.4 L237.6,124.9 L238.1,124.5 L238.6,124.1 L239.1,124.0 L239.6,124.0 L240.1,124.3 L240.6,124.7 L241.1,125.4 L241.6,126.1 L242.1,127.1 L242.6,128.1 L243.1,129.1 L243.6,130.2 L244.1,131.2 L244.6,132.3 L245.1,133.4 L245.6,134.6 L246.1,135.8 L246.6,137.0 L247.1,138.1 L247.6,139.1 L248.1,140.0 L248.6,140.8 L249.1,141.5 L249.6,142.2 L250.1,142.7 L250.6,143.2 L251.1,143.6 L251.6,144.0 L252.1,144.2 L252.6,144.5 L253.1,144.7 L253.6,144.9 L254.1,145.1 L254.6,145.3 L255.1,145.4 L255.6,145.6 L256.1,145.7 L256.6,145.8 L257.1,145.9 L257.6,146.0 L258.1,146.2 L258.6,146.5 L259.1,146.9 L259.6,147.2 L260.1,147.7 L260.6,148.1 L261.1,148.4 L261.6,148.8 L262.1,149.1 L262.6,149.3 L263.1,149.5 L263.6,149.7 L264.1,149.9 L264.6,150.2 L265.1,150.5 L265.6,150.9 L266.1,151.3 L266.6,151.8 L267.1,152.4 L267.6,152.9 L268.1,153.3 L268.6,153.7 L269.1,154.0 L269.6,154.3 L270.1,154.5 L270.6,154.7 L271.1,154.9 L271.6,155.1 L272.1,155.4 L272.6,155.6 L273.1,155.9 L273.6,156.1 L274.1,156.4 L274.6,156.6 L275.1,156.9 L275.6,157.1 L276.1,157.4 L276.6,157.7 L277.1,157.9 L277.6,158.2 L278.1,158.5 L278.6,158.7 L279.1,159.0 L279.6,159.2 L280.1,159.5 L280.6,159.7 L281.1,159.9 L281.6,160.0 L282.1,160.2 L282.6,160.4 L283.1,160.7 L283.6,160.9 L284.1,161.2 L284.6,161.4 L285.1,161.7 L285.6,161.9 L286.1,162.1 L286.6,162.2 L287.1,162.4 L287.6,162.5 L288.1,162.6 L288.6,162.7 L289.1,162.7 L289.6,162.8 L290.1,162.8 L290.6,162.7 L291.1,162.6 L291.6,162.6 L292.1,162.5 L292.6,162.5 L293.1,162.6 L293.6,162.8 L294.1,163.1 L294.6,163.4 L295.1,163.8 L295.6,164.1 L296.1,164.4 L296.6,164.5 L297.1,164.6 L297.6,164.6 L298.1,164.5 L298.6,164.4 L299.1,164.3 L299.6,164.3 L300.1,164.3 L300.6,164.4 L301.1,164.5 L301.6,164.7 L302.1,164.8 L302.6,165.0 L303.1,165.1 L303.6,165.2 L304.1,165.3 L304.6,165.3 L305.1,165.3 L305.6,165.3 L306.1,165.3 L306.6,165.2 L307.1,165.2 L307.6,165.2 L308.1,165.3 L308.6,165.3 L309.1,165.3 L309.6,165.3 L310.1,165.3 L310.6,165.3 L311.1,165.3 L311.6,165.3 L312.1,165.4 L312.6,165.4 L313.1,165.4 L313.6,165.4 L314.1,165.5 L314.6,165.5 L315.1,165.6 L315.6,165.6 L316.1,165.7 L316.6,165.8 L317.1,165.8 L317.6,165.8 L318.1,165.9 L318.6,165.9 L319.1,165.9 L319.6,165.8 L320.1,165.8 L320.6,165.8 L321.1,165.8 L321.6,165.7 L322.1,165.7 L322.6,165.6 L323.1,165.5 L323.6,165.5 L324.1,165.4 L324.6,165.5 L325.1,165.6 L325.6,165.8 L326.1,166.1 L326.6,166.4 L327.1,166.6 L327.6,166.8 L328.1,167.0 L328.6,167.1 L329.1,167.1 L329.6,167.1 L330.1,167.0 L330.6,167.0 L331.1,167.0 L331.6,167.0 L332.1,167.0 L332.6,167.1 L333.1,167.2 L333.6,167.3 L334.1,167.4 L334.6,167.4 L335.1,167.4 L335.6,167.4 L336.1,167.3 L336.6,167.2 L337.1,167.1 L337.6,167.0 L338.1,166.9 L338.6,166.9 L339.1,166.8 L339.6,166.8 L340.1,166.7 L340.6,166.7 L341.1,166.6 L341.6,166.6 L342.1,166.6 L342.6,166.7 L343.1,166.7 L343.6,166.8 L344.1,166.9 L344.6,167.0 L345.1,167.1 L345.6,167.0 L346.1,166.9 L346.6,166.7 L347.1,166.5 L347.6,166.3 L348.1,166.1 L348.6,165.9 L349.1,165.9 L349.6,165.9 L350.1,166.1" fill="none" stroke="#3535d0" stroke-width="1.0"/>
<path d="M205.6,167.5 L205.9,167.5 L206.2,167.5 L206.6,167.5 L207.0,167.5 L207.4,167.5 L207.9,167.5 L208.4,167.5 L208.9,167.5 L209.5,167.5 L210.1,167.5 L210.7,167.5 L211.3,167.4 L211.9,167.4 L212.5,167.4 L213.1,167.4 L213.7,167.4 L214.3,167.4 L214.9,167.4 L215.5,167.4 L216.0,167.4 L216.5,167.3 L217.0,167.3 L217.5,167.3 L217.9,167.3 L218.3,167.3 L218.7,167.2 L219.0,167.2 L220.1,167.0 L220.6,166.9 L220.7,166.7 L220.8,166.3 L221.0,165.8 L221.4,165.1 L221.8,164.2 L222.2,163.2 L222.7,162.2 L223.2,161.0 L223.6,160.1 L224.1,159.2 L224.6,158.1 L225.0,157.1 L225.5,156.0 L226.0,155.0 L226.5,154.0 L227.0,153.0 L227.4,152.1 L227.9,151.1 L228.3,150.1 L228.7,149.2 L229.1,148.2 L229.5,147.3 L230.0,146.0 L230.4,144.8 L230.8,143.5 L231.1,142.3 L231.5,141.0 L231.9,139.4 L232.3,137.8 L232.7,136.2 L233.2,134.5 L233.6,133.3 L234.0,132.0 L234.5,130.7 L235.0,129.4 L235.4,128.3 L235.9,127.3 L236.4,126.5 L236.8,125.9 L237.3,125.4 L237.7,125.0 L238.2,124.7 L238.6,124.5 L239.1,124.5 L239.5,124.6 L240.0,124.9 L240.5,125.4 L241.0,126.0 L241.4,126.6 L241.8,127.2 L242.2,128.0 L242.6,128.9 L243.1,129.8 L243.6,130.8 L244.1,131.8 L244.5,132.6 L244.9,133.5 L245.3,134.4 L245.7,135.4 L246.1,136.4 L246.6,137.4 L247.1,138.4 L247.6,139.3 L248.1,140.2 L248.6,140.9 L249.0,141.4 L249.5,141.9 L250.0,142.3 L250.5,142.7 L251.0,143.1 L251.5,143.4 L252.0,143.7 L252.6,144.1 L253.1,144.4 L253.6,144.6 L254.1,144.9 L254.5,145.2 L255.0,145.5 L255.5,145.8 L256.0,146.1 L256.4,146.4 L256.9,146.7 L257.3,147.0 L257.7,147.2 L258.2,147.5 L258.6,147.7 L259.1,148.0 L259.5,148.2 L260.0,148.5 L260.4,148.8 L260.9,149.0 L261.3,149.3 L261.8,149.5 L262.2,149.8 L262.7,150.0 L263.2,150.3 L263.7,150.6 L264.2,150.9 L264.7,151.2 L265.3,151.5 L265.9,151.8 L266.3,152.0 L266.7,152.2 L267.2,152.5 L267.6,152.7 L268.1,152.9 L268.6,153.2 L269.1,153.4 L269.6,153.7 L270.1,153.9 L270.6,154.2 L271.1,154.5 L271.6,154.7 L272.1,155.0 L272.6,155.2 L273.1,155.5 L273.6,155.7 L274.1,155.9 L274.5,156.2 L275.0,156.4 L275.5,156.7 L276.0,156.9 L276.5,157.2 L277.0,157.4 L277.5,157.7 L277.9,157.9 L278.4,158.2 L278.8,158.4 L279.3,158.6 L279.8,158.9 L280.2,159.1 L280.7,159.3 L281.2,159.6 L281.7,159.8 L282.2,160.0 L282.7,160.2 L283.2,160.4 L283.6,160.5 L284.1,160.7 L284.6,160.9 L285.1,161.0 L285.6,161.2 L286.1,161.4 L286.6,161.5 L287.1,161.7 L287.6,161.8 L288.1,162.0 L288.6,162.1 L289.1,162.2 L289.6,162.4 L290.1,162.5 L290.6,162.6 L291.1,162.8 L291.5,162.9 L292.0,163.0 L292.5,163.1 L292.9,163.2 L293.3,163.3 L293.7,163.4 L294.1,163.5 L294.4,163.6 L294.8,163.7 L295.1,163.8 L295.5,163.9 L295.9,163.9 L296.3,164.0 L296.8,164.1 L297.3,164.2 L297.9,164.2 L298.5,164.3 L299.2,164.4 L300.0,164.5 L300.3,164.5 L300.7,164.6 L301.1,164.6 L301.4,164.7 L301.8,164.7 L302.2,164.8 L302.6,164.8 L303.0,164.9 L303.4,164.9 L303.8,164.9 L304.2,165.0 L304.7,165.0 L305.1,165.1 L305.5,165.1 L306.0,165.2 L306.4,165.2 L306.9,165.3 L307.4,165.3 L307.9,165.4 L308.3,165.4 L308.8,165.5 L309.3,165.5 L309.8,165.6 L310.4,165.6 L310.9,165.7 L311.4,165.7 L311.9,165.8 L312.5,165.8 L313.0,165.9 L313.6,165.9 L314.1,165.9 L314.7,166.0 L315.3,166.0 L315.8,166.1 L316.4,166.1 L317.0,166.1 L317.6,166.2 L318.2,166.2 L318.8,166.2 L319.4,166.3 L320.0,166.3 L320.4,166.3 L320.8,166.3 L321.3,166.4 L321.7,166.4 L322.2,166.4 L322.7,166.4 L323.1,166.4 L323.6,166.4 L324.1,166.4 L324.7,166.5 L325.2,166.5 L325.7,166.5 L326.2,166.5 L326.8,166.5 L327.3,166.5 L327.9,166.5 L328.4,166.5 L329.0,166.6 L329.6,166.6 L330.1,166.6 L330.7,166.6 L331.3,166.6 L331.9,166.6 L332.4,166.6 L333.0,166.6 L333.6,166.6 L334.2,166.6 L334.8,166.6 L335.3,166.6 L335.9,166.7 L336.5,166.7 L337.1,166.7 L337.6,166.7 L338.2,166.7 L338.8,166.7 L339.3,166.7 L339.9,166.7 L340.4,166.7 L341.0,166.7 L341.5,166.7 L342.0,166.7 L342.5,166.7 L343.1,166.7 L343.6,166.7 L344.1,166.7 L344.5,166.7 L345.0,166.7 L345.5,166.7 L345.9,166.8 L346.4,166.8 L346.8,166.8 L347.2,166.8 L347.6,166.8 L348.0,166.8 L348.4,166.8 L348.7,166.8 L349.0,166.8 L349.4,166.8 L349.7,166.8 L350.0,166.8 L350.2,166.8 L350.5,166.8" fill="none" stroke="#1c1c50" stroke-width="0.8"/>
<path d="M217.1,224.4 L217.6,224.3 L218.1,224.3 L218.6,224.2 L219.1,224.0 L219.6,223.9 L220.1,223.7 L220.6,223.4 L221.1,223.1 L221.6,222.8 L222.1,222.4 L222.6,221.9 L223.1,221.3 L223.6,220.6 L224.1,219.8 L224.6,218.9 L225.1,217.9 L225.6,216.7 L226.1,215.5 L226.6,214.1 L227.1,212.6 L227.6,211.0 L228.1,209.2 L228.6,207.4 L229.1,205.5 L229.6,203.6 L230.1,201.6 L230.6,199.6 L231.1,197.7 L231.6,195.8 L232.1,194.0 L232.6,192.4 L233.1,190.9 L233.6,189.6 L234.1,188.5 L234.6,187.7 L235.1,187.1 L235.6,186.8 L236.1,186.8 L236.6,187.1 L237.1,187.6 L237.6,188.4 L238.1,189.5 L238.6,190.7 L239.1,192.2 L239.6,193.8 L240.1,195.6 L240.6,197.5 L241.1,199.4 L241.6,201.4 L242.1,203.3 L242.6,205.3 L243.1,207.2 L243.6,209.0 L244.1,210.8 L244.6,212.4 L245.1,213.9 L245.6,215.3 L246.1,216.6 L246.6,217.8 L247.1,218.8 L247.6,219.7 L248.1,220.5 L248.6,221.2 L249.1,221.8 L249.6,222.3 L250.1,222.7 L250.6,223.1 L251.1,223.4 L251.6,223.6 L252.1,223.8 L252.6,224.0 L253.1,224.1 L253.6,224.2 L254.1,224.3 L254.6,224.4" fill="none" stroke="#3a3a3a" stroke-width="1.2"/>
<path d="M225.2,224.4 L225.7,224.4 L226.2,224.3 L226.7,224.3 L227.2,224.2 L227.7,224.2 L228.2,224.1 L228.7,224.0 L229.2,223.9 L229.7,223.8 L230.2,223.7 L230.7,223.6 L231.2,223.4 L231.7,223.3 L232.2,223.1 L232.7,222.9 L233.2,222.7 L233.7,222.4 L234.2,222.2 L234.7,221.9 L235.2,221.6 L235.7,221.3 L236.2,220.9 L236.7,220.5 L237.2,220.1 L237.7,219.7 L238.2,219.2 L238.7,218.7 L239.2,218.2 L239.7,217.6 L240.2,217.1 L240.7,216.5 L241.2,215.8 L241.7,215.2 L242.2,214.5 L242.7,213.9 L243.2,213.2 L243.7,212.5 L244.2,211.8 L244.7,211.1 L245.2,210.4 L245.7,209.7 L246.2,209.0 L246.7,208.4 L247.2,207.8 L247.7,207.1 L248.2,206.6 L248.7,206.0 L249.2,205.5 L249.7,205.0 L250.2,204.6 L250.7,204.2 L251.2,203.9 L251.7,203.7 L252.2,203.5 L252.7,203.3 L253.2,203.2 L253.7,203.2 L254.2,203.2 L254.7,203.3 L255.2,203.5 L255.7,203.7 L256.2,204.0 L256.7,204.3 L257.2,204.7 L257.7,205.2 L258.2,205.6 L258.7,206.2 L259.2,206.7 L259.7,207.3 L260.2,207.9 L260.7,208.6 L261.2,209.2 L261.7,209.9 L262.2,210.6 L262.7,211.3 L263.2,212.0 L263.7,212.7 L264.2,213.4 L264.7,214.1 L265.2,214.7 L265.7,215.4 L266.2,216.0 L266.7,216.6 L267.2,217.2 L267.7,217.8 L268.2,218.3 L268.7,218.8 L269.2,219.3 L269.7,219.8 L270.2,220.2 L270.7,220.6 L271.2,221.0 L271.7,221.4 L272.2,221.7 L272.7,222.0 L273.2,222.3 L273.7,222.5 L274.2,222.7 L274.7,223.0 L275.2,223.1 L275.7,223.3 L276.2,223.5 L276.7,223.6 L277.2,223.7 L277.7,223.8 L278.2,223.9 L278.7,224.0 L279.2,224.1 L279.7,224.2 L280.2,224.2 L280.7,224.3 L281.2,224.3 L281.7,224.4" fill="none" stroke="#3a3a3a" stroke-width="1.2"/>
<path d="M225.9,224.4 L226.4,224.4 L226.9,224.4 L227.4,224.3 L227.9,224.3 L228.4,224.3 L228.9,224.3 L229.4,224.2 L229.9,224.2 L230.4,224.2 L230.9,224.2 L231.4,224.1 L231.9,224.1 L232.4,224.0 L232.9,224.0 L233.4,224.0 L233.9,223.9 L234.4,223.9 L234.9,223.8 L235.4,223.8 L235.9,223.7 L236.4,223.6 L236.9,223.6 L237.4,223.5 L237.9,223.4 L238.4,223.4 L238.9,223.3 L239.4,223.2 L239.9,223.1 L240.4,223.0 L240.9,222.9 L241.4,222.8 L241.9,222.7 L242.4,222.6 L242.9,222.5 L243.4,222.4 L243.9,222.3 L244.4,222.2 L244.9,222.1 L245.4,221.9 L245.9,221.8 L246.4,221.7 L246.9,221.6 L247.4,221.4 L247.9,221.3 L248.4,221.1 L248.9,221.0 L249.4,220.9 L249.9,220.7 L250.4,220.6 L250.9,220.4 L251.4,220.2 L251.9,220.1 L252.4,219.9 L252.9,219.8 L253.4,219.6 L253.9,219.5 L254.4,219.3 L254.9,219.2 L255.4,219.0 L255.9,218.8 L256.4,218.7 L256.9,218.5 L257.4,218.4 L257.9,218.2 L258.4,218.1 L258.9,218.0 L259.4,217.8 L259.9,217.7 L260.4,217.6 L260.9,217.4 L261.4,217.3 L261.9,217.2 L262.4,217.1 L262.9,217.0 L263.4,216.9 L263.9,216.8 L264.4,216.7 L264.9,216.6 L265.4,216.6 L265.9,216.5 L266.4,216.5 L266.9,216.4 L267.4,216.4 L267.9,216.3 L268.4,216.3 L268.9,216.3 L269.4,216.3 L269.9,216.3 L270.4,216.3 L270.9,216.3 L271.4,216.4 L271.9,216.4 L272.4,216.4 L272.9,216.5 L273.4,216.5 L273.9,216.6 L274.4,216.7 L274.9,216.7 L275.4,216.8 L275.9,216.9 L276.4,217.0 L276.9,217.1 L277.4,217.2 L277.9,217.4 L278.4,217.5 L278.9,217.6 L279.4,217.7 L279.9,217.9 L280.4,218.0 L280.9,218.1 L281.4,218.3 L281.9,218.4 L282.4,218.6 L282.9,218.7 L283.4,218.9 L283.9,219.0 L284.4,219.2 L284.9,219.4 L285.4,219.5 L285.9,219.7 L286.4,219.8 L286.9,220.0 L287.4,220.1 L287.9,220.3 L288.4,220.4 L288.9,220.6 L289.4,220.7 L289.9,220.9 L290.4,221.0 L290.9,221.2 L291.4,221.3 L291.9,221.5 L292.4,221.6 L292.9,221.7 L293.4,221.9 L293.9,222.0 L294.4,222.1 L294.9,222.2 L295.4,222.3 L295.9,222.5 L296.4,222.6 L296.9,222.7 L297.4,222.8 L297.9,222.9 L298.4,223.0 L298.9,223.1 L299.4,223.1 L299.9,223.2 L300.4,223.3 L300.9,223.4 L301.4,223.5 L301.9,223.5 L302.4,223.6 L302.9,223.7 L303.4,223.7 L303.9,223.8 L304.4,223.8 L304.9,223.9 L305.4,223.9 L305.9,224.0 L306.4,224.0 L306.9,224.1 L307.4,224.1 L307.9,224.1 L308.4,224.2 L308.9,224.2 L309.4,224.2 L309.9,224.3 L310.4,224.3 L310.9,224.3 L311.4,224.3 L311.9,224.3 L312.4,224.4 L312.9,224.4" fill="none" stroke="#3a3a3a" stroke-width="1.2"/>
<line x1="218" y1="224.6" x2="350.5" y2="224.6" stroke="#666" stroke-width="0.8"/>
<path d="M205.6,224.5 L205.9,224.5 L206.2,224.5 L206.6,224.5 L207.0,224.5 L207.5,224.5 L207.9,224.5 L208.5,224.5 L209.0,224.5 L209.6,224.5 L210.2,224.5 L210.8,224.5 L211.3,224.5 L211.9,224.5 L212.5,224.5 L213.1,224.5 L213.6,224.4 L214.2,224.4 L214.7,224.4 L215.1,224.4 L215.6,224.4 L216.0,224.3 L216.3,224.3 L217.2,224.2 L217.8,224.1 L218.2,224.0 L218.5,223.8 L218.8,223.6 L219.1,223.4 L219.5,223.0 L220.0,222.6 L220.4,222.1 L220.8,221.5 L221.3,220.9 L221.7,220.2 L222.2,219.4 L222.7,218.5 L223.1,217.6 L223.6,216.7 L224.1,215.7 L224.5,214.7 L225.0,213.5 L225.5,212.4 L226.0,211.2 L226.4,210.0 L226.9,208.6 L227.4,207.0 L227.8,205.4 L228.3,203.8 L228.7,202.1 L229.2,200.5 L229.6,199.0 L230.1,197.2 L230.6,195.5 L231.1,193.8 L231.6,192.1 L232.0,190.5 L232.5,189.0 L232.9,187.6 L233.4,186.2 L233.8,184.8 L234.2,183.6 L234.6,182.5 L235.0,181.5 L235.4,180.5 L235.8,179.7 L236.2,179.0 L236.6,178.6 L237.1,178.3 L237.5,178.3 L238.0,178.5 L238.5,178.8 L239.0,179.2 L239.5,179.6 L240.0,180.0 L240.4,180.4 L240.9,180.8 L241.3,181.3 L241.7,181.8 L242.1,182.4 L242.5,183.0 L242.9,183.7 L243.3,184.4 L243.7,185.2 L244.1,186.0 L244.5,186.9 L245.0,187.7 L245.4,188.4 L245.8,189.1 L246.1,189.8 L246.6,190.5 L247.0,191.2 L247.5,191.9 L248.0,192.6 L248.6,193.2 L249.0,193.5 L249.4,193.9 L249.9,194.2 L250.4,194.5 L250.9,194.8 L251.4,195.0 L251.9,195.3 L252.5,195.6 L253.0,195.8 L253.5,196.1 L254.0,196.3 L254.5,196.6 L255.0,196.8 L255.5,197.0 L255.9,197.2 L256.4,197.4 L256.8,197.6 L257.3,197.8 L257.7,197.9 L258.1,198.1 L258.6,198.3 L259.0,198.5 L259.5,198.8 L260.0,199.1 L260.5,199.5 L260.9,199.9 L261.4,200.2 L261.8,200.7 L262.3,201.1 L262.8,201.6 L263.3,202.1 L263.7,202.7 L264.2,203.2 L264.7,203.7 L265.2,204.3 L265.7,204.8 L266.2,205.3 L266.7,205.8 L267.2,206.3 L267.7,206.8 L268.2,207.3 L268.7,207.7 L269.1,208.2 L269.6,208.6 L270.1,209.1 L270.6,209.5 L271.1,210.0 L271.6,210.4 L272.0,210.9 L272.5,211.3 L273.0,211.7 L273.5,212.1 L274.0,212.5 L274.5,212.9 L275.0,213.2 L275.5,213.5 L275.9,213.8 L276.4,214.1 L276.9,214.3 L277.3,214.6 L277.8,214.8 L278.3,215.1 L278.7,215.3 L279.2,215.5 L279.7,215.7 L280.2,215.9 L280.7,216.1 L281.2,216.3 L281.7,216.6 L282.2,216.8 L282.7,217.0 L283.1,217.2 L283.6,217.4 L284.0,217.6 L284.4,217.8 L284.8,218.0 L285.2,218.2 L285.6,218.3 L286.1,218.5 L286.5,218.7 L286.9,218.9 L287.4,219.1 L287.9,219.3 L288.4,219.5 L288.9,219.6 L289.4,219.8 L290.0,220.0 L290.6,220.2 L291.3,220.3 L292.0,220.5 L292.4,220.6 L292.8,220.7 L293.2,220.8 L293.6,220.8 L294.0,220.9 L294.4,221.0 L294.8,221.1 L295.3,221.2 L295.7,221.3 L296.2,221.3 L296.7,221.4 L297.1,221.5 L297.6,221.6 L298.1,221.7 L298.6,221.8 L299.1,221.8 L299.6,221.9 L300.1,222.0 L300.6,222.1 L301.1,222.1 L301.6,222.2 L302.1,222.3 L302.7,222.4 L303.2,222.4 L303.7,222.5 L304.2,222.6 L304.8,222.6 L305.3,222.7 L305.8,222.8 L306.3,222.8 L306.9,222.9 L307.4,222.9 L307.9,223.0 L308.4,223.1 L309.0,223.1 L309.5,223.2 L310.0,223.2 L310.5,223.2 L310.9,223.3 L311.4,223.3 L311.9,223.3 L312.3,223.4 L312.8,223.4 L313.3,223.4 L313.8,223.5 L314.2,223.5 L314.7,223.5 L315.2,223.5 L315.7,223.5 L316.2,223.6 L316.7,223.6 L317.1,223.6 L317.6,223.6 L318.1,223.6 L318.6,223.6 L319.1,223.6 L319.6,223.7 L320.1,223.7 L320.6,223.7 L321.1,223.7 L321.6,223.7 L322.1,223.7 L322.6,223.7 L323.1,223.7 L323.6,223.7 L324.0,223.7 L324.5,223.7 L325.0,223.7 L325.5,223.7 L326.0,223.7 L326.5,223.7 L327.0,223.8 L327.5,223.8 L328.0,223.8 L328.5,223.8 L329.0,223.8 L329.5,223.8 L330.0,223.8 L330.5,223.8 L331.0,223.8 L331.5,223.8 L332.0,223.8 L332.5,223.8 L333.1,223.9 L333.6,223.9 L334.2,223.9 L334.7,223.9 L335.3,223.9 L335.9,223.9 L336.4,223.9 L337.0,223.9 L337.6,223.9 L338.1,223.9 L338.7,223.9 L339.3,223.9 L339.8,223.9 L340.4,223.9 L340.9,223.9 L341.5,223.9 L342.0,223.9 L342.6,223.9 L343.1,223.9 L343.6,224.0 L344.2,224.0 L344.7,224.0 L345.2,224.0 L345.7,224.0 L346.1,224.0 L346.6,224.0 L347.0,224.0 L347.5,224.0 L347.9,224.0 L348.3,224.0 L348.6,224.0 L349.0,224.0 L349.3,224.0 L349.7,224.0 L350.0,224.0 L350.2,224.0 L350.5,224.0" fill="none" stroke="#38b038" stroke-width="1.1"/>
<path d="M205.6,224.7 L206.1,224.7 L206.6,224.7 L207.1,224.7 L207.6,224.7 L208.1,224.6 L208.6,224.6 L209.1,224.6 L209.6,224.7 L210.1,224.8 L210.6,224.9 L211.1,225.0 L211.6,225.1 L212.1,225.2 L212.6,225.2 L213.1,225.0 L213.6,224.9 L214.1,224.6 L214.6,224.3 L215.1,224.1 L215.6,223.8 L216.1,223.7 L216.6,223.5 L217.1,223.4 L217.6,223.3 L218.1,223.1 L218.6,222.9 L219.1,222.5 L219.6,222.0 L220.1,221.6 L220.6,221.1 L221.1,220.6 L221.6,220.0 L222.1,219.2 L222.6,218.4 L223.1,217.4 L223.6,216.2 L224.1,214.9 L224.6,213.6 L225.1,212.2 L225.6,210.7 L226.1,209.1 L226.6,207.5 L227.1,205.7 L227.6,203.8 L228.1,201.9 L228.6,199.8 L229.1,197.9 L229.6,195.9 L230.1,194.1 L230.6,192.2 L231.1,190.5 L231.6,188.9 L232.1,187.6 L232.6,186.5 L233.1,185.7 L233.6,185.0 L234.1,184.3 L234.6,183.8 L235.1,183.3 L235.6,182.9 L236.1,182.5 L236.6,182.0 L237.1,181.6 L237.6,181.1 L238.1,180.8 L238.6,180.5 L239.1,180.4 L239.6,180.4 L240.1,180.7 L240.6,181.0 L241.1,181.4 L241.6,181.8 L242.1,182.3 L242.6,182.8 L243.1,183.4 L243.6,184.3 L244.1,185.3 L244.6,186.2 L245.1,187.1 L245.6,188.0 L246.1,188.9 L246.6,189.8 L247.1,190.6 L247.6,191.4 L248.1,192.1 L248.6,192.8 L249.1,193.5 L249.6,194.1 L250.1,194.6 L250.6,195.1 L251.1,195.5 L251.6,195.7 L252.1,195.8 L252.6,195.9 L253.1,195.9 L253.6,195.9 L254.1,196.0 L254.6,196.1 L255.1,196.3 L255.6,196.5 L256.1,196.6 L256.6,196.8 L257.1,197.0 L257.6,197.2 L258.1,197.4 L258.6,197.7 L259.1,198.1 L259.6,198.6 L260.1,199.2 L260.6,199.7 L261.1,200.3 L261.6,200.9 L262.1,201.4 L262.6,201.9 L263.1,202.4 L263.6,202.8 L264.1,203.3 L264.6,203.7 L265.1,204.2 L265.6,204.6 L266.1,205.0 L266.6,205.3 L267.1,205.6 L267.6,206.0 L268.1,206.3 L268.6,206.8 L269.1,207.3 L269.6,207.8 L270.1,208.4 L270.6,209.1 L271.1,209.7 L271.6,210.3 L272.1,210.8 L272.6,211.3 L273.1,211.8 L273.6,212.3 L274.1,212.7 L274.6,213.1 L275.1,213.4 L275.6,213.7 L276.1,213.9 L276.6,214.1 L277.1,214.2 L277.6,214.2 L278.1,214.3 L278.6,214.4 L279.1,214.6 L279.6,214.9 L280.1,215.2 L280.6,215.6 L281.1,216.0 L281.6,216.4 L282.1,216.8 L282.6,217.1 L283.1,217.2 L283.6,217.3 L284.1,217.3 L284.6,217.4 L285.1,217.4 L285.6,217.5 L286.1,217.6 L286.6,217.8 L287.1,218.1 L287.6,218.4 L288.1,218.6 L288.6,218.9 L289.1,219.2 L289.6,219.3 L290.1,219.5 L290.6,219.5 L291.1,219.6 L291.6,219.6 L292.1,219.6 L292.6,219.6 L293.1,219.7 L293.6,219.8 L294.1,219.9 L294.6,220.0 L295.1,220.1 L295.6,220.3 L296.1,220.4 L296.6,220.6 L297.1,220.9 L297.6,221.2 L298.1,221.6 L298.6,222.0 L299.1,222.3 L299.6,222.6 L300.1,222.8 L300.6,222.8 L301.1,222.7 L301.6,222.5 L302.1,222.4 L302.6,222.2 L303.1,222.1 L303.6,222.1 L304.1,222.2 L304.6,222.5 L305.1,222.8 L305.6,223.1 L306.1,223.3 L306.6,223.6 L307.1,223.7 L307.6,223.7 L308.1,223.6 L308.6,223.5 L309.1,223.3 L309.6,223.1 L310.1,223.0 L310.6,222.9 L311.1,222.9 L311.6,223.0 L312.1,223.1 L312.6,223.2 L313.1,223.3 L313.6,223.4 L314.1,223.5 L314.6,223.6 L315.1,223.7 L315.6,223.8 L316.1,223.9 L316.6,224.0 L317.1,224.1 L317.6,224.1 L318.1,224.2 L318.6,224.2 L319.1,224.1 L319.6,224.1 L320.1,224.0 L320.6,223.9 L321.1,223.9 L321.6,223.7 L322.1,223.5 L322.6,223.3 L323.1,223.1 L323.6,222.9 L324.1,222.8 L324.6,222.7 L325.1,222.8 L325.6,222.9 L326.1,223.1 L326.6,223.3 L327.1,223.5 L327.6,223.6 L328.1,223.7 L328.6,223.8 L329.1,223.9 L329.6,223.9 L330.1,223.9 L330.6,223.9 L331.1,223.9 L331.6,223.9 L332.1,223.8 L332.6,223.7 L333.1,223.6 L333.6,223.4 L334.1,223.3 L334.6,223.1 L335.1,223.0 L335.6,223.0 L336.1,222.9 L336.6,222.8 L337.1,222.8 L337.6,222.8 L338.1,222.8 L338.6,222.9 L339.1,223.1 L339.6,223.3 L340.1,223.6 L340.6,223.9 L341.1,224.1 L341.6,224.4 L342.1,224.5 L342.6,224.5 L343.1,224.5 L343.6,224.3 L344.1,224.2 L344.6,224.1 L345.1,223.9 L345.6,223.8 L346.1,223.7 L346.6,223.6 L347.1,223.5 L347.6,223.4 L348.1,223.3 L348.6,223.2 L349.1,223.2 L349.6,223.2 L350.1,223.3" fill="none" stroke="#2233ee" stroke-width="0.7"/>
</g>
<rect x="205.6" y="2.8" width="144.9" height="223.8" fill="none" stroke="#1a1a1a" stroke-width="1.3"/>
<line x1="202" y1="2.8" x2="205.6" y2="2.8" stroke="#1a1a1a" stroke-width="1.3"/>
<line x1="202" y1="226.6" x2="205.6" y2="226.6" stroke="#1a1a1a" stroke-width="1.3"/>
<line x1="203.4" y1="226.60" x2="205.6" y2="226.60" stroke="#1a1a1a" stroke-width="1"/>
<line x1="203.4" y1="198.60" x2="205.6" y2="198.60" stroke="#1a1a1a" stroke-width="1"/>
<line x1="203.4" y1="170.60" x2="205.6" y2="170.60" stroke="#1a1a1a" stroke-width="1"/>
<line x1="203.4" y1="142.60" x2="205.6" y2="142.60" stroke="#1a1a1a" stroke-width="1"/>
<line x1="203.4" y1="114.60" x2="205.6" y2="114.60" stroke="#1a1a1a" stroke-width="1"/>
<line x1="203.4" y1="86.60" x2="205.6" y2="86.60" stroke="#1a1a1a" stroke-width="1"/>
<line x1="203.4" y1="58.60" x2="205.6" y2="58.60" stroke="#1a1a1a" stroke-width="1"/>
<line x1="203.4" y1="30.60" x2="205.6" y2="30.60" stroke="#1a1a1a" stroke-width="1"/>
<line x1="205.60" y1="226.6" x2="205.60" y2="229.1" stroke="#1a1a1a" stroke-width="0.9"/>
<line x1="215.95" y1="226.6" x2="215.95" y2="228.2" stroke="#1a1a1a" stroke-width="0.9"/>
<line x1="226.30" y1="226.6" x2="226.30" y2="229.1" stroke="#1a1a1a" stroke-width="0.9"/>
<line x1="236.65" y1="226.6" x2="236.65" y2="228.2" stroke="#1a1a1a" stroke-width="0.9"/>
<line x1="247.00" y1="226.6" x2="247.00" y2="229.1" stroke="#1a1a1a" stroke-width="0.9"/>
<line x1="257.35" y1="226.6" x2="257.35" y2="228.2" stroke="#1a1a1a" stroke-width="0.9"/>
<line x1="267.70" y1="226.6" x2="267.70" y2="229.1" stroke="#1a1a1a" stroke-width="0.9"/>
<line x1="278.05" y1="226.6" x2="278.05" y2="228.2" stroke="#1a1a1a" stroke-width="0.9"/>
<line x1="288.40" y1="226.6" x2="288.40" y2="229.1" stroke="#1a1a1a" stroke-width="0.9"/>
<line x1="298.75" y1="226.6" x2="298.75" y2="228.2" stroke="#1a1a1a" stroke-width="0.9"/>
<line x1="309.10" y1="226.6" x2="309.10" y2="229.1" stroke="#1a1a1a" stroke-width="0.9"/>
<line x1="319.45" y1="226.6" x2="319.45" y2="228.2" stroke="#1a1a1a" stroke-width="0.9"/>
<line x1="329.80" y1="226.6" x2="329.80" y2="229.1" stroke="#1a1a1a" stroke-width="0.9"/>
<line x1="340.15" y1="226.6" x2="340.15" y2="228.2" stroke="#1a1a1a" stroke-width="0.9"/>
<line x1="350.50" y1="226.6" x2="350.50" y2="229.1" stroke="#1a1a1a" stroke-width="0.9"/>
<text x='21.43' y='26.30' font-family='"Liberation Sans",sans-serif' font-size='7.40' font-weight='normal' textLength='11.14' lengthAdjust='spacingAndGlyphs' fill='#111' stroke='#111' stroke-width='0.25'>402</text>
<text x='43.93' y='46.30' font-family='"Liberation Sans",sans-serif' font-size='7.40' font-weight='normal' textLength='11.06' lengthAdjust='spacingAndGlyphs' fill='#111' stroke='#111' stroke-width='0.25'>425</text>
<text x='71.05' y='41.20' font-family='"Liberation Sans",sans-serif' font-size='7.40' font-weight='normal' textLength='9.91' lengthAdjust='spacingAndGlyphs' fill='#111' stroke='#111' stroke-width='0.25'>480</text>
<text x='97.76' y='50.00' font-family='"Liberation Sans",sans-serif' font-size='7.40' font-weight='normal' textLength='10.72' lengthAdjust='spacingAndGlyphs' fill='#111' stroke='#111' stroke-width='0.25'>526</text>
<text x='21.43' y='70.40' font-family='"Liberation Sans",sans-serif' font-size='7.40' font-weight='normal' textLength='11.14' lengthAdjust='spacingAndGlyphs' fill='#111' stroke='#111' stroke-width='0.25'>402</text>
<text x='43.94' y='92.20' font-family='"Liberation Sans",sans-serif' font-size='7.40' font-weight='normal' textLength='10.74' lengthAdjust='spacingAndGlyphs' fill='#111' stroke='#111' stroke-width='0.25'>426</text>
<text x='68.03' y='85.70' font-family='"Liberation Sans",sans-serif' font-size='7.40' font-weight='normal' textLength='11.04' lengthAdjust='spacingAndGlyphs' fill='#111' stroke='#111' stroke-width='0.25'>482</text>
<text x='96.94' y='95.70' font-family='"Liberation Sans",sans-serif' font-size='7.40' font-weight='normal' textLength='11.47' lengthAdjust='spacingAndGlyphs' fill='#111' stroke='#111' stroke-width='0.25'>534</text>
<text x='49.43' y='130.00' font-family='"Liberation Sans",sans-serif' font-size='7.40' font-weight='normal' textLength='11.16' lengthAdjust='spacingAndGlyphs' fill='#111' stroke='#111' stroke-width='0.25'>433</text>
<text x='59.94' y='142.20' font-family='"Liberation Sans",sans-serif' font-size='7.40' font-weight='normal' textLength='10.83' lengthAdjust='spacingAndGlyphs' fill='#111' stroke='#111' stroke-width='0.25'>467</text>
<text x='89.94' y='153.10' font-family='"Liberation Sans",sans-serif' font-size='7.40' font-weight='normal' textLength='11.35' lengthAdjust='spacingAndGlyphs' fill='#111' stroke='#111' stroke-width='0.25'>520</text>
<text x='33.84' y='173.30' font-family='"Liberation Sans",sans-serif' font-size='7.40' font-weight='normal' textLength='10.62' lengthAdjust='spacingAndGlyphs' fill='#111' stroke='#111' stroke-width='0.25'>402</text>
<text x='42.82' y='195.00' font-family='"Liberation Sans",sans-serif' font-size='7.40' font-weight='normal' textLength='11.89' lengthAdjust='spacingAndGlyphs' fill='#111' stroke='#111' stroke-width='0.25'>431</text>
<text x='64.94' y='199.00' font-family='"Liberation Sans",sans-serif' font-size='7.40' font-weight='normal' textLength='10.83' lengthAdjust='spacingAndGlyphs' fill='#111' stroke='#111' stroke-width='0.25'>477</text>
<text x='95.84' y='200.70' font-family='"Liberation Sans",sans-serif' font-size='7.40' font-weight='normal' textLength='11.35' lengthAdjust='spacingAndGlyphs' fill='#111' stroke='#111' stroke-width='0.25'>529</text>
<text x='132.55' y='16.10' font-family='"Liberation Sans",sans-serif' font-size='8.90' font-weight='normal' textLength='29.10' lengthAdjust='spacingAndGlyphs' fill='#111' stroke='#111' stroke-width='0.25'>ND-ODA</text>
<text x='139.74' y='74.70' font-family='"Liberation Sans",sans-serif' font-size='8.90' font-weight='normal' textLength='23.09' lengthAdjust='spacingAndGlyphs' fill='#111' stroke='#111' stroke-width='0.25'>ND-AF</text>
<text x='139.14' y='129.80' font-family='"Liberation Sans",sans-serif' font-size='8.90' font-weight='normal' textLength='23.33' lengthAdjust='spacingAndGlyphs' fill='#111' stroke='#111' stroke-width='0.25'>ND-AP</text>
<text x='148.67' y='175.90' font-family='"Liberation Sans",sans-serif' font-size='8.90' font-weight='normal' textLength='10.35' lengthAdjust='spacingAndGlyphs' fill='#111' stroke='#111' stroke-width='0.25'>ND</text>
<text x='74.61' y='11.30' font-family='"Liberation Sans",sans-serif' font-size='7.70' font-weight='bold' textLength='36.08' lengthAdjust='spacingAndGlyphs' fill='#111' stroke='#111' stroke-width='0.20'>&#955;e=355nm</text>
<text x='63.20' y='246.90' font-family='"Liberation Sans",sans-serif' font-size='7.90' font-weight='normal' textLength='58.00' lengthAdjust='spacingAndGlyphs' fill='#111' stroke='#111' stroke-width='0.25'>Wavelength (nm)</text>
<text x='24.70' y='271.70' font-family='"Liberation Serif",serif' font-size='14.40' font-weight='bold' textLength='9.65' lengthAdjust='spacingAndGlyphs' fill='#111' stroke='#111' stroke-width='0.35'>I)</text>
<text x='231.74' y='38.30' font-family='"Liberation Sans",sans-serif' font-size='6.60' font-weight='normal' textLength='10.76' lengthAdjust='spacingAndGlyphs' fill='#111' stroke='#111' stroke-width='0.22'>424</text>
<text x='247.73' y='46.00' font-family='"Liberation Sans",sans-serif' font-size='6.60' font-weight='normal' textLength='11.16' lengthAdjust='spacingAndGlyphs' fill='#111' stroke='#111' stroke-width='0.22'>466</text>
<text x='279.56' y='38.50' font-family='"Liberation Sans",sans-serif' font-size='6.60' font-weight='normal' textLength='10.83' lengthAdjust='spacingAndGlyphs' fill='#111' stroke='#111' stroke-width='0.22'>515</text>
<text x='231.74' y='92.90' font-family='"Liberation Sans",sans-serif' font-size='6.60' font-weight='normal' textLength='10.66' lengthAdjust='spacingAndGlyphs' fill='#111' stroke='#111' stroke-width='0.22'>424</text>
<text x='248.53' y='104.90' font-family='"Liberation Sans",sans-serif' font-size='6.60' font-weight='normal' textLength='11.56' lengthAdjust='spacingAndGlyphs' fill='#111' stroke='#111' stroke-width='0.22'>462</text>
<text x='275.15' y='103.80' font-family='"Liberation Sans",sans-serif' font-size='6.60' font-weight='normal' textLength='10.91' lengthAdjust='spacingAndGlyphs' fill='#111' stroke='#111' stroke-width='0.22'>512</text>
<text x='232.84' y='152.20' font-family='"Liberation Sans",sans-serif' font-size='6.60' font-weight='normal' textLength='10.74' lengthAdjust='spacingAndGlyphs' fill='#111' stroke='#111' stroke-width='0.22'>428</text>
<text x='248.53' y='159.40' font-family='"Liberation Sans",sans-serif' font-size='6.60' font-weight='normal' textLength='11.47' lengthAdjust='spacingAndGlyphs' fill='#111' stroke='#111' stroke-width='0.22'>459</text>
<text x='272.36' y='156.60' font-family='"Liberation Sans",sans-serif' font-size='6.60' font-weight='normal' textLength='10.74' lengthAdjust='spacingAndGlyphs' fill='#111' stroke='#111' stroke-width='0.22'>514</text>
<text x='231.74' y='209.40' font-family='"Liberation Sans",sans-serif' font-size='6.60' font-weight='normal' textLength='10.74' lengthAdjust='spacingAndGlyphs' fill='#111' stroke='#111' stroke-width='0.22'>423</text>
<text x='249.24' y='214.90' font-family='"Liberation Sans",sans-serif' font-size='6.60' font-weight='normal' textLength='10.74' lengthAdjust='spacingAndGlyphs' fill='#111' stroke='#111' stroke-width='0.22'>465</text>
<text x='275.74' y='213.10' font-family='"Liberation Sans",sans-serif' font-size='6.60' font-weight='normal' textLength='11.35' lengthAdjust='spacingAndGlyphs' fill='#111' stroke='#111' stroke-width='0.22'>508</text>
<text x='312.96' y='13.70' font-family='"Liberation Sans",sans-serif' font-size='8.10' font-weight='normal' textLength='32.75' lengthAdjust='spacingAndGlyphs' fill='#111' stroke='#111' stroke-width='0.20'>LND-ODA</text>
<text x='317.85' y='71.70' font-family='"Liberation Sans",sans-serif' font-size='8.10' font-weight='normal' textLength='26.72' lengthAdjust='spacingAndGlyphs' fill='#111' stroke='#111' stroke-width='0.20'>LND-AF</text>
<text x='317.35' y='125.40' font-family='"Liberation Sans",sans-serif' font-size='8.10' font-weight='normal' textLength='27.37' lengthAdjust='spacingAndGlyphs' fill='#111' stroke='#111' stroke-width='0.20'>LND-AP</text>
<text x='316.36' y='179.50' font-family='"Liberation Sans",sans-serif' font-size='8.10' font-weight='normal' textLength='14.72' lengthAdjust='spacingAndGlyphs' fill='#111' stroke='#111' stroke-width='0.20'>LND</text>
<text x='250.61' y='248.60' font-family='"Liberation Sans",sans-serif' font-size='7.00' font-weight='normal' textLength='54.66' lengthAdjust='spacingAndGlyphs' fill='#111' stroke='#111' stroke-width='0.20'>Wavelength(nm)</text>
<text x='207.47' y='271.70' font-family='"Liberation Serif",serif' font-size='14.40' font-weight='bold' textLength='15.63' lengthAdjust='spacingAndGlyphs' fill='#111' stroke='#111' stroke-width='0.35'>II)</text>
<text x='12.70' y='235.40' font-size='8.10' textLength='12.93' lengthAdjust='spacingAndGlyphs' text-anchor='middle' fill='#111' stroke='#111' stroke-width='0.25'>350</text>
<text x='35.00' y='235.40' font-size='8.10' textLength='12.93' lengthAdjust='spacingAndGlyphs' text-anchor='middle' fill='#111' stroke='#111' stroke-width='0.25'>400</text>
<text x='57.30' y='235.40' font-size='8.10' textLength='12.93' lengthAdjust='spacingAndGlyphs' text-anchor='middle' fill='#111' stroke='#111' stroke-width='0.25'>450</text>
<text x='79.60' y='235.40' font-size='8.10' textLength='12.93' lengthAdjust='spacingAndGlyphs' text-anchor='middle' fill='#111' stroke='#111' stroke-width='0.25'>500</text>
<text x='101.90' y='235.40' font-size='8.10' textLength='12.93' lengthAdjust='spacingAndGlyphs' text-anchor='middle' fill='#111' stroke='#111' stroke-width='0.25'>550</text>
<text x='124.20' y='235.40' font-size='8.10' textLength='12.93' lengthAdjust='spacingAndGlyphs' text-anchor='middle' fill='#111' stroke='#111' stroke-width='0.25'>600</text>
<text x='146.50' y='235.40' font-size='8.10' textLength='12.93' lengthAdjust='spacingAndGlyphs' text-anchor='middle' fill='#111' stroke='#111' stroke-width='0.25'>650</text>
<text x='168.80' y='235.40' font-size='8.10' textLength='12.93' lengthAdjust='spacingAndGlyphs' text-anchor='middle' fill='#111' stroke='#111' stroke-width='0.25'>700</text>
<text x='205.60' y='236.60' font-size='6.60' textLength='11.25' lengthAdjust='spacingAndGlyphs' text-anchor='middle' fill='#111' stroke='#111' stroke-width='0.25'>350</text>
<text x='226.30' y='236.60' font-size='6.60' textLength='11.25' lengthAdjust='spacingAndGlyphs' text-anchor='middle' fill='#111' stroke='#111' stroke-width='0.25'>400</text>
<text x='247.00' y='236.60' font-size='6.60' textLength='11.25' lengthAdjust='spacingAndGlyphs' text-anchor='middle' fill='#111' stroke='#111' stroke-width='0.25'>450</text>
<text x='267.70' y='236.60' font-size='6.60' textLength='11.25' lengthAdjust='spacingAndGlyphs' text-anchor='middle' fill='#111' stroke='#111' stroke-width='0.25'>500</text>
<text x='288.40' y='236.60' font-size='6.60' textLength='11.25' lengthAdjust='spacingAndGlyphs' text-anchor='middle' fill='#111' stroke='#111' stroke-width='0.25'>550</text>
<text x='309.10' y='236.60' font-size='6.60' textLength='11.25' lengthAdjust='spacingAndGlyphs' text-anchor='middle' fill='#111' stroke='#111' stroke-width='0.25'>600</text>
<text x='329.80' y='236.60' font-size='6.60' textLength='11.25' lengthAdjust='spacingAndGlyphs' text-anchor='middle' fill='#111' stroke='#111' stroke-width='0.25'>650</text>
<text x='350.50' y='236.60' font-size='6.60' textLength='11.25' lengthAdjust='spacingAndGlyphs' text-anchor='middle' fill='#111' stroke='#111' stroke-width='0.25'>700</text>
<text transform='translate(7.4,105.25) rotate(-90)' font-size='7.6' text-anchor='middle' textLength='59.3' lengthAdjust='spacingAndGlyphs' fill='#111' stroke='#111' stroke-width='0.2'>PL intensity (a.u)</text>
<text transform='translate(197.5,113.45) rotate(-90)' font-size='7.7' text-anchor='middle' textLength='63.2' lengthAdjust='spacingAndGlyphs' fill='#111' stroke='#111' stroke-width='0.2'>PL Intensity (a.u.)</text>
</svg></body></html>
